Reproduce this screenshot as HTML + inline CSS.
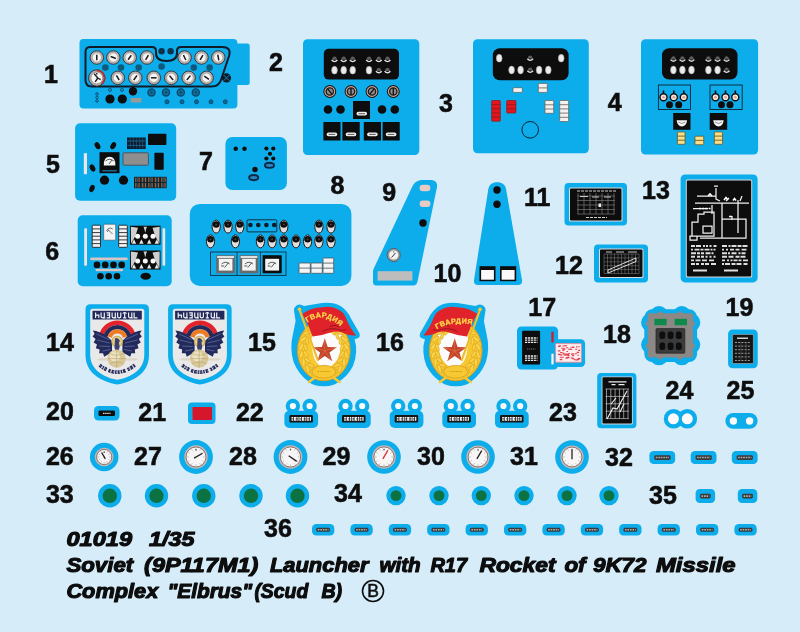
<!DOCTYPE html>
<html><head><meta charset="utf-8"><title>Decal sheet 01019</title>
<style>
html,body{margin:0;padding:0;background:#d6ecf9;}
body{width:800px;height:632px;overflow:hidden;font-family:"Liberation Sans",sans-serif;}
svg{display:block;position:absolute;left:0;top:0;}
.n{font-family:"Liberation Sans",sans-serif;font-weight:bold;font-size:25px;fill:#111;text-anchor:middle;stroke:#111;stroke-width:0.6px;}
.t{font-family:"Liberation Sans",sans-serif;font-weight:bold;font-style:italic;font-size:20.5px;fill:#0a0a0a;stroke:#0a0a0a;stroke-width:1.1px;stroke-linejoin:round;}
</style></head><body>
<svg width="800" height="632" viewBox="0 0 800 632">
<defs><filter id="soft" x="0" y="0" width="800" height="632" filterUnits="userSpaceOnUse"><feGaussianBlur stdDeviation="0.45"/></filter></defs>
<rect x="0" y="0" width="800" height="632" fill="#d6ecf9"/>
<g filter="url(#soft)">
<rect x="-5" y="-5" width="810" height="642" fill="#d6ecf9"/>
<!-- 00_labels.py -->
<text class="n" x="51.0" y="82.5">1</text>
<text class="n" x="276.0" y="71.0">2</text>
<text class="n" x="446.0" y="112.0">3</text>
<text class="n" x="614.8" y="111.0">4</text>
<text class="n" x="53.0" y="172.5">5</text>
<text class="n" x="52.2" y="259.5">6</text>
<text class="n" x="206.0" y="170.0">7</text>
<text class="n" x="337.5" y="194.0">8</text>
<text class="n" x="389.2" y="201.0">9</text>
<text class="n" x="447.5" y="282.0">10</text>
<text class="n" x="537.2" y="206.0">11</text>
<text class="n" x="569.0" y="274.0">12</text>
<text class="n" x="656.0" y="199.0">13</text>
<text class="n" x="60.0" y="351.0">14</text>
<text class="n" x="262.0" y="351.0">15</text>
<text class="n" x="390.0" y="351.0">16</text>
<text class="n" x="542.2" y="316.0">17</text>
<text class="n" x="617.0" y="342.5">18</text>
<text class="n" x="739.5" y="316.0">19</text>
<text class="n" x="60.0" y="420.0">20</text>
<text class="n" x="152.2" y="420.5">21</text>
<text class="n" x="249.8" y="420.5">22</text>
<text class="n" x="563.0" y="420.5">23</text>
<text class="n" x="679.5" y="399.0">24</text>
<text class="n" x="740.5" y="399.0">25</text>
<text class="n" x="59.8" y="464.5">26</text>
<text class="n" x="148.0" y="464.5">27</text>
<text class="n" x="243.0" y="464.5">28</text>
<text class="n" x="336.5" y="464.5">29</text>
<text class="n" x="431.0" y="464.5">30</text>
<text class="n" x="524.0" y="464.5">31</text>
<text class="n" x="619.0" y="465.5">32</text>
<text class="n" x="59.8" y="502.5">33</text>
<text class="n" x="348.0" y="502.0">34</text>
<text class="n" x="663.0" y="504.0">35</text>
<text class="n" x="278.0" y="536.5">36</text>
<text class="t" x="66.4" y="546.0" textLength="65.7" lengthAdjust="spacingAndGlyphs">01019</text>
<text class="t" x="149.1" y="546.0" textLength="45.5" lengthAdjust="spacingAndGlyphs">1/35</text>
<text class="t" x="66.4" y="572.0" textLength="66.9" lengthAdjust="spacingAndGlyphs">Soviet</text>
<text class="t" x="144.1" y="572.0" textLength="114.2" lengthAdjust="spacingAndGlyphs">(9P117M1)</text>
<text class="t" x="269.9" y="572.0" textLength="98.7" lengthAdjust="spacingAndGlyphs">Launcher</text>
<text class="t" x="379.4" y="572.0" textLength="41.2" lengthAdjust="spacingAndGlyphs">with</text>
<text class="t" x="430.4" y="572.0" textLength="36.7" lengthAdjust="spacingAndGlyphs">R17</text>
<text class="t" x="479.4" y="572.0" textLength="76.2" lengthAdjust="spacingAndGlyphs">Rocket</text>
<text class="t" x="564.4" y="572.0" textLength="21.2" lengthAdjust="spacingAndGlyphs">of</text>
<text class="t" x="592.9" y="572.0" textLength="53.7" lengthAdjust="spacingAndGlyphs">9K72</text>
<text class="t" x="655.9" y="572.0" textLength="79.7" lengthAdjust="spacingAndGlyphs">Missile</text>
<text class="t" x="66.4" y="597.5" textLength="91.9" lengthAdjust="spacingAndGlyphs">Complex</text>
<text class="t" x="167.4" y="597.5" textLength="84.7" lengthAdjust="spacingAndGlyphs">&quot;Elbrus&quot;</text>
<text class="t" x="254.4" y="597.5" textLength="53.9" lengthAdjust="spacingAndGlyphs">(Scud</text>
<text class="t" x="321.4" y="597.5" textLength="20.7" lengthAdjust="spacingAndGlyphs">B)</text>
<circle cx="373" cy="591" r="10.5" fill="none" stroke="#111" stroke-width="1.6"/>
<text x="373" y="597.3" font-family="Liberation Sans" font-size="17.5" text-anchor="middle" fill="#111" stroke="#111" stroke-width="0.5">B</text>
<!-- 10_panel1.py -->
<rect x="231.0" y="43.5" width="18.7" height="41.4" rx="2.5" fill="#0aadec" />
<rect x="79.5" y="39.1" width="157.9" height="69.4" rx="4" fill="#0aadec" />
<path d="M90,47 H152 Q156,47 156,51 V53 Q156,61 166.5,61 Q177,61 177,53 V51 Q177,47 181,47 H222 Q231.5,47 229.2,55.5 L221,80 Q219,86.5 211.5,86.5 H92 Q85.5,86.5 85.5,80 V52 Q85.5,47 90,47 Z" fill="none" stroke="#0c1a26" stroke-width="2"/>
<circle cx="105.4" cy="67.6" r="3.3" fill="#0b5a7d" />
<circle cx="121.0" cy="67.6" r="3.3" fill="#0b5a7d" />
<circle cx="138.7" cy="67.6" r="3.3" fill="#0b5a7d" />
<circle cx="193.8" cy="67.6" r="3.3" fill="#0b5a7d" />
<circle cx="209.6" cy="67.6" r="3.3" fill="#0b5a7d" />
<circle cx="161.6" cy="66.5" r="3.3" fill="#0b5a7d" />
<circle cx="161.6" cy="51.2" r="3.2" fill="#0a3048" />
<circle cx="170.6" cy="51.2" r="3.2" fill="#0a3048" />
<circle cx="96.8" cy="57.5" r="6.75" fill="#b9b0ac" stroke="#2c3036" stroke-width="0.9"/>
<circle cx="96.8" cy="57.5" r="4.45" fill="#f6f6f6" stroke="#8a8a8a" stroke-width="0.4"/>
<line x1="96.8" y1="60.3" x2="96.8" y2="54.7" stroke="#1a1a1a" stroke-width="1.5"/>
<circle cx="113.3" cy="57.5" r="6.75" fill="#b9b0ac" stroke="#2c3036" stroke-width="0.9"/>
<circle cx="113.3" cy="57.5" r="4.45" fill="#f6f6f6" stroke="#8a8a8a" stroke-width="0.4"/>
<line x1="115.9" y1="58.5" x2="110.7" y2="56.5" stroke="#1a1a1a" stroke-width="1.5"/>
<circle cx="129.7" cy="57.5" r="6.75" fill="#b9b0ac" stroke="#2c3036" stroke-width="0.9"/>
<circle cx="129.7" cy="57.5" r="4.45" fill="#f6f6f6" stroke="#8a8a8a" stroke-width="0.4"/>
<line x1="128.1" y1="59.8" x2="131.3" y2="55.2" stroke="#1a1a1a" stroke-width="1.5"/>
<circle cx="147.0" cy="57.5" r="6.75" fill="#b9b0ac" stroke="#2c3036" stroke-width="0.9"/>
<circle cx="147.0" cy="57.5" r="4.45" fill="#f6f6f6" stroke="#8a8a8a" stroke-width="0.4"/>
<line x1="145.6" y1="59.9" x2="148.4" y2="55.1" stroke="#1a1a1a" stroke-width="1.5"/>
<circle cx="184.6" cy="57.5" r="6.75" fill="#b9b0ac" stroke="#2c3036" stroke-width="0.9"/>
<circle cx="184.6" cy="57.5" r="4.45" fill="#f6f6f6" stroke="#8a8a8a" stroke-width="0.4"/>
<line x1="185.8" y1="60.0" x2="183.4" y2="55.0" stroke="#1a1a1a" stroke-width="1.5"/>
<circle cx="201.5" cy="57.5" r="6.75" fill="#b9b0ac" stroke="#2c3036" stroke-width="0.9"/>
<circle cx="201.5" cy="57.5" r="4.45" fill="#f6f6f6" stroke="#8a8a8a" stroke-width="0.4"/>
<line x1="200.1" y1="59.9" x2="202.9" y2="55.1" stroke="#1a1a1a" stroke-width="1.5"/>
<circle cx="218.3" cy="57.5" r="6.75" fill="#b9b0ac" stroke="#2c3036" stroke-width="0.9"/>
<circle cx="218.3" cy="57.5" r="4.45" fill="#f6f6f6" stroke="#8a8a8a" stroke-width="0.4"/>
<line x1="218.8" y1="60.3" x2="217.8" y2="54.7" stroke="#1a1a1a" stroke-width="1.5"/>
<circle cx="117.8" cy="77.8" r="6.75" fill="#b9b0ac" stroke="#2c3036" stroke-width="0.9"/>
<circle cx="117.8" cy="77.8" r="4.45" fill="#f6f6f6" stroke="#8a8a8a" stroke-width="0.4"/>
<line x1="119.2" y1="80.2" x2="116.4" y2="75.4" stroke="#1a1a1a" stroke-width="1.5"/>
<circle cx="135.3" cy="77.8" r="6.75" fill="#b9b0ac" stroke="#2c3036" stroke-width="0.9"/>
<circle cx="135.3" cy="77.8" r="4.45" fill="#f6f6f6" stroke="#8a8a8a" stroke-width="0.4"/>
<line x1="133.7" y1="80.1" x2="136.9" y2="75.5" stroke="#1a1a1a" stroke-width="1.5"/>
<circle cx="153.8" cy="77.8" r="6.75" fill="#b9b0ac" stroke="#2c3036" stroke-width="0.9"/>
<circle cx="153.8" cy="77.8" r="4.45" fill="#f6f6f6" stroke="#8a8a8a" stroke-width="0.4"/>
<line x1="151.0" y1="77.8" x2="156.6" y2="77.8" stroke="#1a1a1a" stroke-width="1.5"/>
<circle cx="171.3" cy="77.8" r="6.75" fill="#b9b0ac" stroke="#2c3036" stroke-width="0.9"/>
<circle cx="171.3" cy="77.8" r="4.45" fill="#f6f6f6" stroke="#8a8a8a" stroke-width="0.4"/>
<line x1="173.1" y1="80.0" x2="169.5" y2="75.6" stroke="#1a1a1a" stroke-width="1.5"/>
<circle cx="188.6" cy="77.8" r="6.75" fill="#b9b0ac" stroke="#2c3036" stroke-width="0.9"/>
<circle cx="188.6" cy="77.8" r="4.45" fill="#f6f6f6" stroke="#8a8a8a" stroke-width="0.4"/>
<line x1="186.8" y1="80.0" x2="190.4" y2="75.6" stroke="#1a1a1a" stroke-width="1.5"/>
<circle cx="206.6" cy="77.8" r="6.75" fill="#b9b0ac" stroke="#2c3036" stroke-width="0.9"/>
<circle cx="206.6" cy="77.8" r="4.45" fill="#f6f6f6" stroke="#8a8a8a" stroke-width="0.4"/>
<line x1="208.9" y1="79.4" x2="204.3" y2="76.2" stroke="#1a1a1a" stroke-width="1.5"/>
<circle cx="96.8" cy="78.0" r="8.2" fill="#b4b0b0" stroke="#2c2426" stroke-width="0.9"/>
<path d="M96.8,70.6 A7.4,7.4 0 0 1 101.5,83.8" fill="none" stroke="#b8322a" stroke-width="1.7"/>
<circle cx="96.8" cy="78.0" r="5.9" fill="#f6f6f6" stroke="#6a5a5a" stroke-width="0.5"/>
<path d="M94.2,73.8 L97.8,78 L95.2,81.8 M97.8,78 L100.6,79.6 M96.8,73 V74.5" stroke="#1a1a1a" stroke-width="1.4" fill="none"/>
<circle cx="226.5" cy="77.9" r="4.6" fill="#0c1a26" />
<path d="M223.6,75 L229.4,80.8 M229.4,75 L223.6,80.8" stroke="#1e8fc4" stroke-width="0.9"/>
<circle cx="151.5" cy="92.4" r="3.6" fill="#0e6e99" stroke="#0a4666" stroke-width="1.3"/>
<circle cx="151.5" cy="92.4" r="1.1" fill="#0a4666" />
<circle cx="166.0" cy="92.4" r="3.6" fill="#0e6e99" stroke="#0a4666" stroke-width="1.3"/>
<circle cx="166.0" cy="92.4" r="1.1" fill="#0a4666" />
<circle cx="180.8" cy="92.4" r="3.6" fill="#0e6e99" stroke="#0a4666" stroke-width="1.3"/>
<circle cx="180.8" cy="92.4" r="1.1" fill="#0a4666" />
<circle cx="195.8" cy="92.4" r="3.6" fill="#0e6e99" stroke="#0a4666" stroke-width="1.3"/>
<circle cx="195.8" cy="92.4" r="1.1" fill="#0a4666" />
<circle cx="110.0" cy="90.0" r="1.5" fill="none" stroke="#0a4666" stroke-width="0.9"/>
<circle cx="122.0" cy="90.0" r="1.5" fill="none" stroke="#0a4666" stroke-width="0.9"/>
<circle cx="133.0" cy="91.2" r="4.2" fill="#0a0a0a" />
<circle cx="110.0" cy="99.0" r="4.6" fill="#0a0a0a" />
<circle cx="122.3" cy="99.0" r="4.6" fill="#0a0a0a" />
<circle cx="97.0" cy="94.0" r="1.3" fill="none" stroke="#0a4666" stroke-width="0.9"/>
<circle cx="97.0" cy="97.5" r="1.3" fill="none" stroke="#0a4666" stroke-width="0.9"/>
<circle cx="97.0" cy="101.0" r="1.3" fill="none" stroke="#0a4666" stroke-width="0.9"/>
<rect x="130.8" y="98.0" width="10.6" height="4.5" rx="0" fill="#9a9a9a" />
<circle cx="167.0" cy="101.8" r="2.0" fill="#0d6a94" stroke="#0a4666" stroke-width="0.9"/>
<circle cx="182.0" cy="101.8" r="2.0" fill="#0d6a94" stroke="#0a4666" stroke-width="0.9"/>
<circle cx="196.5" cy="101.8" r="2.0" fill="#0d6a94" stroke="#0a4666" stroke-width="0.9"/>
<circle cx="211.0" cy="101.8" r="2.0" fill="#0d6a94" stroke="#0a4666" stroke-width="0.9"/>
<circle cx="225.3" cy="101.8" r="2.0" fill="#0d6a94" stroke="#0a4666" stroke-width="0.9"/>
<!-- 11_panel234.py -->
<rect x="303.0" y="39.2" width="116.3" height="115.8" rx="4.5" fill="#0aadec" />
<rect x="323.8" y="48.7" width="75.2" height="30.9" rx="5" fill="#0a0a0a" />
<path d="M332.2,59.8 A2.3,3.2 0 0 1 336.8,59.8 Z" fill="#5c5c5c"/>
<path d="M331.6,60.0 Q334.5,63.2 337.4,60.0" fill="none" stroke="#e4e4e4" stroke-width="1.4"/>
<path d="M341.4,59.8 A2.3,3.2 0 0 1 346.0,59.8 Z" fill="#5c5c5c"/>
<path d="M340.8,60.0 Q343.7,63.2 346.6,60.0" fill="none" stroke="#e4e4e4" stroke-width="1.4"/>
<path d="M350.4,59.8 A2.3,3.2 0 0 1 355.0,59.8 Z" fill="#5c5c5c"/>
<path d="M349.8,60.0 Q352.7,63.2 355.6,60.0" fill="none" stroke="#e4e4e4" stroke-width="1.4"/>
<path d="M366.7,59.8 A2.3,3.2 0 0 1 371.3,59.8 Z" fill="#5c5c5c"/>
<path d="M366.1,60.0 Q369.0,63.2 371.9,60.0" fill="none" stroke="#e4e4e4" stroke-width="1.4"/>
<path d="M376.5,59.8 A2.3,3.2 0 0 1 381.1,59.8 Z" fill="#5c5c5c"/>
<path d="M375.9,60.0 Q378.8,63.2 381.7,60.0" fill="none" stroke="#e4e4e4" stroke-width="1.4"/>
<path d="M385.2,59.8 A2.3,3.2 0 0 1 389.8,59.8 Z" fill="#5c5c5c"/>
<path d="M384.6,60.0 Q387.5,63.2 390.4,60.0" fill="none" stroke="#e4e4e4" stroke-width="1.4"/>
<ellipse cx="334.5" cy="70.2" rx="2.9" ry="3.9" fill="#ececec" stroke="#9a9a9a" stroke-width="0.6"/>
<ellipse cx="343.7" cy="70.2" rx="2.9" ry="3.9" fill="#ececec" stroke="#9a9a9a" stroke-width="0.6"/>
<ellipse cx="352.7" cy="70.2" rx="2.9" ry="3.9" fill="#ececec" stroke="#9a9a9a" stroke-width="0.6"/>
<ellipse cx="369.0" cy="70.2" rx="2.9" ry="3.9" fill="#ececec" stroke="#9a9a9a" stroke-width="0.6"/>
<path d="M376.5,71.0 A2.3,3.2 0 0 1 381.1,71.0 Z" fill="#5c5c5c"/>
<path d="M375.9,71.2 Q378.8,74.4 381.7,71.2" fill="none" stroke="#e4e4e4" stroke-width="1.4"/>
<path d="M385.2,71.0 A2.3,3.2 0 0 1 389.8,71.0 Z" fill="#5c5c5c"/>
<path d="M384.6,71.2 Q387.5,74.4 390.4,71.2" fill="none" stroke="#e4e4e4" stroke-width="1.4"/>
<circle cx="329.8" cy="91.5" r="6.4" fill="#101010" />
<circle cx="329.8" cy="91.5" r="4.9" fill="#1a1a1a" stroke="#d0a898" stroke-width="1.1"/>
<circle cx="329.8" cy="91.5" r="3.0" fill="#8c8c8c" />
<line x1="332.0" y1="94.1" x2="327.6" y2="88.9" stroke="#161616" stroke-width="1.4"/>
<circle cx="351.0" cy="91.5" r="6.4" fill="#101010" />
<circle cx="351.0" cy="91.5" r="4.9" fill="#1a1a1a" stroke="#d0a898" stroke-width="1.1"/>
<circle cx="351.0" cy="91.5" r="3.0" fill="#8c8c8c" />
<line x1="351.0" y1="94.9" x2="351.0" y2="88.1" stroke="#161616" stroke-width="1.4"/>
<circle cx="372.0" cy="91.5" r="6.4" fill="#101010" />
<circle cx="372.0" cy="91.5" r="4.9" fill="#1a1a1a" stroke="#d0a898" stroke-width="1.1"/>
<circle cx="372.0" cy="91.5" r="3.0" fill="#8c8c8c" />
<line x1="369.8" y1="94.1" x2="374.2" y2="88.9" stroke="#161616" stroke-width="1.4"/>
<circle cx="393.3" cy="91.5" r="6.4" fill="#101010" />
<circle cx="393.3" cy="91.5" r="4.9" fill="#1a1a1a" stroke="#d0a898" stroke-width="1.1"/>
<circle cx="393.3" cy="91.5" r="3.0" fill="#8c8c8c" />
<line x1="393.3" y1="94.9" x2="393.3" y2="88.1" stroke="#161616" stroke-width="1.4"/>
<circle cx="328.0" cy="109.5" r="4.3" fill="#0a0a0a" />
<circle cx="340.5" cy="109.5" r="4.3" fill="#0a0a0a" />
<circle cx="382.0" cy="109.5" r="4.3" fill="#0a0a0a" />
<circle cx="394.8" cy="109.5" r="4.3" fill="#0a0a0a" />
<rect x="353.0" y="101.0" width="17.0" height="18.0" rx="0" fill="#0a0a0a" />
<rect x="356.5" y="111.8" width="10.5" height="3.7" rx="1.8" fill="#efefef" />
<line x1="358.5" y1="113.7" x2="365" y2="113.7" stroke="#333" stroke-width="0.8"/>
<rect x="323.4" y="122.0" width="17.1" height="18.5" rx="0" fill="#0a0a0a" />
<rect x="326.6" y="132.5" width="10.6" height="3.7" rx="1.8" fill="#efefef" />
<line x1="328.6" y1="134.4" x2="335.2" y2="134.4" stroke="#333" stroke-width="0.8"/>
<rect x="342.4" y="122.0" width="17.3" height="18.5" rx="0" fill="#0a0a0a" />
<rect x="345.7" y="132.5" width="10.6" height="3.7" rx="1.8" fill="#efefef" />
<line x1="347.7" y1="134.4" x2="354.3" y2="134.4" stroke="#333" stroke-width="0.8"/>
<rect x="363.8" y="122.0" width="17.2" height="18.5" rx="0" fill="#0a0a0a" />
<rect x="367.1" y="132.5" width="10.6" height="3.7" rx="1.8" fill="#efefef" />
<line x1="369.1" y1="134.4" x2="375.7" y2="134.4" stroke="#333" stroke-width="0.8"/>
<rect x="382.6" y="122.0" width="17.1" height="18.5" rx="0" fill="#0a0a0a" />
<rect x="385.8" y="132.5" width="10.6" height="3.7" rx="1.8" fill="#efefef" />
<line x1="387.8" y1="134.4" x2="394.4" y2="134.4" stroke="#333" stroke-width="0.8"/>
<rect x="473.0" y="39.2" width="115.8" height="114.0" rx="4.5" fill="#0aadec" />
<rect x="492.8" y="48.2" width="75.8" height="32.0" rx="7" fill="#0a0a0a" />
<ellipse cx="499.2" cy="58.2" rx="2.9" ry="3.9" fill="#ececec" stroke="#9a9a9a" stroke-width="0.6"/>
<ellipse cx="561.2" cy="58.2" rx="2.9" ry="3.9" fill="#ececec" stroke="#9a9a9a" stroke-width="0.6"/>
<path d="M527.9,58.6 A2.3,3.2 0 0 1 532.5,58.6 Z" fill="#5c5c5c"/>
<path d="M527.3,58.8 Q530.2,62.0 533.1,58.8" fill="none" stroke="#e4e4e4" stroke-width="1.4"/>
<ellipse cx="511.6" cy="70.0" rx="2.9" ry="3.9" fill="#ececec" stroke="#9a9a9a" stroke-width="0.6"/>
<ellipse cx="520.6" cy="70.0" rx="2.9" ry="3.9" fill="#ececec" stroke="#9a9a9a" stroke-width="0.6"/>
<ellipse cx="539.1" cy="70.0" rx="2.9" ry="3.9" fill="#ececec" stroke="#9a9a9a" stroke-width="0.6"/>
<ellipse cx="548.3" cy="70.0" rx="2.9" ry="3.9" fill="#ececec" stroke="#9a9a9a" stroke-width="0.6"/>
<path d="M527.9,70.6 A2.3,3.2 0 0 1 532.5,70.6 Z" fill="#5c5c5c"/>
<path d="M527.3,70.8 Q530.2,74.0 533.1,70.8" fill="none" stroke="#e4e4e4" stroke-width="1.4"/>
<rect x="513.0" y="87.7" width="9.3" height="4.7" rx="1" fill="#f2f2f2" stroke="#5a4a3a" stroke-width="0.6"/>
<rect x="538.3" y="83.4" width="9.0" height="9.0" rx="0.8" fill="#f2f2f2" stroke="#6a5a4a" stroke-width="0.7"/>
<line x1="538.3" y1="87.9" x2="547.3" y2="87.9" stroke="#6a5a4a" stroke-width="0.8"/>
<rect x="491.7" y="100.5" width="8.6" height="20.7" rx="0.8" fill="#e3121c" stroke="#8a1a1a" stroke-width="0.7"/>
<line x1="491.7" y1="104.6" x2="500.3" y2="104.6" stroke="#8a1a1a" stroke-width="0.8"/>
<line x1="491.7" y1="108.8" x2="500.3" y2="108.8" stroke="#8a1a1a" stroke-width="0.8"/>
<line x1="491.7" y1="112.9" x2="500.3" y2="112.9" stroke="#8a1a1a" stroke-width="0.8"/>
<line x1="491.7" y1="117.1" x2="500.3" y2="117.1" stroke="#8a1a1a" stroke-width="0.8"/>
<rect x="506.7" y="100.5" width="9.2" height="12.5" rx="0.8" fill="#e3121c" stroke="#8a1a1a" stroke-width="0.7"/>
<line x1="506.7" y1="104.7" x2="515.9" y2="104.7" stroke="#8a1a1a" stroke-width="0.8"/>
<line x1="506.7" y1="108.8" x2="515.9" y2="108.8" stroke="#8a1a1a" stroke-width="0.8"/>
<rect x="545.0" y="100.5" width="8.7" height="12.8" rx="0.8" fill="#f2f2f2" stroke="#6a5a4a" stroke-width="0.7"/>
<line x1="545.0" y1="104.8" x2="553.7" y2="104.8" stroke="#6a5a4a" stroke-width="0.8"/>
<line x1="545.0" y1="109.0" x2="553.7" y2="109.0" stroke="#6a5a4a" stroke-width="0.8"/>
<rect x="559.7" y="100.5" width="8.9" height="21.0" rx="0.8" fill="#f2f2f2" stroke="#6a5a4a" stroke-width="0.7"/>
<line x1="559.7" y1="104.7" x2="568.6" y2="104.7" stroke="#6a5a4a" stroke-width="0.8"/>
<line x1="559.7" y1="108.9" x2="568.6" y2="108.9" stroke="#6a5a4a" stroke-width="0.8"/>
<line x1="559.7" y1="113.1" x2="568.6" y2="113.1" stroke="#6a5a4a" stroke-width="0.8"/>
<line x1="559.7" y1="117.3" x2="568.6" y2="117.3" stroke="#6a5a4a" stroke-width="0.8"/>
<circle cx="530.2" cy="129.8" r="8.3" fill="none" stroke="#10222e" stroke-width="1"/>
<rect x="641.0" y="39.2" width="117.1" height="115.4" rx="4.5" fill="#0aadec" />
<rect x="662.0" y="48.2" width="75.5" height="31.4" rx="7" fill="#0a0a0a" />
<path d="M671.1,59.4 A2.3,3.2 0 0 1 675.7,59.4 Z" fill="#5c5c5c"/>
<path d="M670.5,59.6 Q673.4,62.8 676.3,59.6" fill="none" stroke="#e4e4e4" stroke-width="1.4"/>
<path d="M680.1,59.4 A2.3,3.2 0 0 1 684.7,59.4 Z" fill="#5c5c5c"/>
<path d="M679.5,59.6 Q682.4,62.8 685.3,59.6" fill="none" stroke="#e4e4e4" stroke-width="1.4"/>
<path d="M689.2,59.4 A2.3,3.2 0 0 1 693.8,59.4 Z" fill="#5c5c5c"/>
<path d="M688.6,59.6 Q691.5,62.8 694.4,59.6" fill="none" stroke="#e4e4e4" stroke-width="1.4"/>
<path d="M706.1,59.4 A2.3,3.2 0 0 1 710.7,59.4 Z" fill="#5c5c5c"/>
<path d="M705.5,59.6 Q708.4,62.8 711.3,59.6" fill="none" stroke="#e4e4e4" stroke-width="1.4"/>
<path d="M715.3,59.4 A2.3,3.2 0 0 1 719.9,59.4 Z" fill="#5c5c5c"/>
<path d="M714.7,59.6 Q717.6,62.8 720.5,59.6" fill="none" stroke="#e4e4e4" stroke-width="1.4"/>
<path d="M724.3,59.4 A2.3,3.2 0 0 1 728.9,59.4 Z" fill="#5c5c5c"/>
<path d="M723.7,59.6 Q726.6,62.8 729.5,59.6" fill="none" stroke="#e4e4e4" stroke-width="1.4"/>
<ellipse cx="673.4" cy="70.0" rx="2.9" ry="3.9" fill="#ececec" stroke="#9a9a9a" stroke-width="0.6"/>
<ellipse cx="682.4" cy="70.0" rx="2.9" ry="3.9" fill="#ececec" stroke="#9a9a9a" stroke-width="0.6"/>
<ellipse cx="691.5" cy="70.0" rx="2.9" ry="3.9" fill="#ececec" stroke="#9a9a9a" stroke-width="0.6"/>
<ellipse cx="708.4" cy="70.0" rx="2.9" ry="3.9" fill="#ececec" stroke="#9a9a9a" stroke-width="0.6"/>
<ellipse cx="717.6" cy="70.0" rx="2.9" ry="3.9" fill="#ececec" stroke="#9a9a9a" stroke-width="0.6"/>
<path d="M724.3,70.6 A2.3,3.2 0 0 1 728.9,70.6 Z" fill="#5c5c5c"/>
<path d="M723.7,70.8 Q726.6,74.0 729.5,70.8" fill="none" stroke="#e4e4e4" stroke-width="1.4"/>
<rect x="658.4" y="85.0" width="32.1" height="24.5" rx="0" fill="none" stroke="#10222e" stroke-width="0.9"/>
<line x1="663.5" y1="90.5" x2="663.5" y2="94" stroke="#0a0a0a" stroke-width="1.6"/>
<circle cx="663.5" cy="97.3" r="3.5" fill="#f4e4de" stroke="#111" stroke-width="1.4"/>
<circle cx="663.5" cy="97.3" r="1.3" fill="#d8a090" />
<line x1="673.8" y1="90.5" x2="673.8" y2="94" stroke="#0a0a0a" stroke-width="1.6"/>
<circle cx="673.8" cy="97.3" r="3.5" fill="#f4e4de" stroke="#111" stroke-width="1.4"/>
<circle cx="673.8" cy="97.3" r="1.3" fill="#d8a090" />
<line x1="683.8" y1="90.5" x2="683.8" y2="94" stroke="#0a0a0a" stroke-width="1.6"/>
<circle cx="683.8" cy="97.3" r="3.5" fill="#f4e4de" stroke="#111" stroke-width="1.4"/>
<circle cx="683.8" cy="97.3" r="1.3" fill="#d8a090" />
<circle cx="669.5" cy="104.8" r="3.5" fill="#0a0a0a" />
<circle cx="678.7" cy="104.8" r="3.5" fill="#0a0a0a" />
<rect x="710.0" y="85.0" width="32.2" height="24.5" rx="0" fill="none" stroke="#10222e" stroke-width="0.9"/>
<line x1="715.5" y1="90.5" x2="715.5" y2="94" stroke="#0a0a0a" stroke-width="1.6"/>
<circle cx="715.5" cy="97.3" r="3.5" fill="#f4e4de" stroke="#111" stroke-width="1.4"/>
<circle cx="715.5" cy="97.3" r="1.3" fill="#d8a090" />
<line x1="725.5" y1="90.5" x2="725.5" y2="94" stroke="#0a0a0a" stroke-width="1.6"/>
<circle cx="725.5" cy="97.3" r="3.5" fill="#f4e4de" stroke="#111" stroke-width="1.4"/>
<circle cx="725.5" cy="97.3" r="1.3" fill="#d8a090" />
<line x1="735.3" y1="90.5" x2="735.3" y2="94" stroke="#0a0a0a" stroke-width="1.6"/>
<circle cx="735.3" cy="97.3" r="3.5" fill="#f4e4de" stroke="#111" stroke-width="1.4"/>
<circle cx="735.3" cy="97.3" r="1.3" fill="#d8a090" />
<circle cx="721.5" cy="104.8" r="3.5" fill="#0a0a0a" />
<circle cx="730.0" cy="104.8" r="3.5" fill="#0a0a0a" />
<rect x="673.2" y="113.0" width="17.3" height="16.8" rx="0" fill="#0a0a0a" />
<path d="M676.6,120.2 L687.1,120.2 Q686.4,126.2 681.9,126.4 Q677.4,126.2 676.6,120.2 Z" fill="#f4f4f4"/>
<path d="M678.4,122 Q681.9,125 685.4,122" fill="none" stroke="#666" stroke-width="0.7"/>
<rect x="709.7" y="113.0" width="17.5" height="16.8" rx="0" fill="#0a0a0a" />
<path d="M713.2,120.2 L723.7,120.2 Q723.0,126.2 718.5,126.4 Q714.0,126.2 713.2,120.2 Z" fill="#f4f4f4"/>
<path d="M715.0,122 Q718.5,125 722.0,122" fill="none" stroke="#666" stroke-width="0.7"/>
<rect x="677.4" y="132.0" width="7.6" height="12.3" rx="0.8" fill="#f7e08a" stroke="#6a4a10" stroke-width="0.7"/>
<line x1="677.4" y1="136.1" x2="685.0" y2="136.1" stroke="#6a4a10" stroke-width="0.8"/>
<line x1="677.4" y1="140.2" x2="685.0" y2="140.2" stroke="#6a4a10" stroke-width="0.8"/>
<rect x="695.0" y="136.2" width="8.7" height="8.5" rx="0.8" fill="#f7e08a" stroke="#6a4a10" stroke-width="0.7"/>
<line x1="695.0" y1="140.4" x2="703.7" y2="140.4" stroke="#6a4a10" stroke-width="0.8"/>
<rect x="714.4" y="132.0" width="8.1" height="12.3" rx="0.8" fill="#f7e08a" stroke="#6a4a10" stroke-width="0.7"/>
<line x1="714.4" y1="136.1" x2="722.5" y2="136.1" stroke="#6a4a10" stroke-width="0.8"/>
<line x1="714.4" y1="140.2" x2="722.5" y2="140.2" stroke="#6a4a10" stroke-width="0.8"/>
<!-- 12_panel5678.py -->
<rect x="75.1" y="123.2" width="101.1" height="77.5" rx="5" fill="#0aadec" />
<rect x="83.8" y="153.2" width="3.2" height="21.0" rx="0" fill="#ece4e6" />
<ellipse cx="97.5" cy="145.7" rx="2.5" ry="3.8" fill="#0a0a0a" transform="rotate(-30 97.5 145.7)"/>
<ellipse cx="113.2" cy="145.7" rx="2.5" ry="3.8" fill="#0a0a0a" transform="rotate(30 113.2 145.7)"/>
<ellipse cx="92.5" cy="168.0" rx="2.5" ry="3.8" fill="#0a0a0a" transform="rotate(-30 92.5 168)"/>
<ellipse cx="92.0" cy="188.5" rx="2.5" ry="3.8" fill="#0a0a0a" transform="rotate(20 92 188.5)"/>
<rect x="99.5" y="152.2" width="20.0" height="21.0" rx="0" fill="#0a0a0a" />
<path d="M103.8,165.5 Q103.5,157 109.6,156.8 Q115.6,157 115.4,165.5 Z" fill="#f4f4f4"/>
<path d="M105.5,161 Q109.5,157.5 113.8,161 M109,164 L112,160" fill="none" stroke="#333" stroke-width="0.8"/>
<line x1="102.2" y1="170.8" x2="116.8" y2="170.8" stroke="#1e7fb4" stroke-width="1.2"/>
<circle cx="104.5" cy="180.2" r="4.6" fill="#0a0a0a" />
<circle cx="123.5" cy="180.2" r="4.6" fill="#0a0a0a" />
<rect x="127.0" y="137.5" width="18.7" height="11.5" rx="0" fill="#0b1c2c" />
<line x1="130.2" y1="138.2" x2="130.2" y2="148.3" stroke="#1a5a84" stroke-width="0.7"/>
<line x1="133.4" y1="138.2" x2="133.4" y2="148.3" stroke="#1a5a84" stroke-width="0.7"/>
<line x1="136.4" y1="138.2" x2="136.4" y2="148.3" stroke="#1a5a84" stroke-width="0.7"/>
<line x1="139.6" y1="138.2" x2="139.6" y2="148.3" stroke="#1a5a84" stroke-width="0.7"/>
<line x1="142.6" y1="138.2" x2="142.6" y2="148.3" stroke="#1a5a84" stroke-width="0.7"/>
<line x1="127.5" y1="141" x2="145.2" y2="141" stroke="#1e6e9c" stroke-width="0.8"/>
<line x1="127.5" y1="145.4" x2="145.2" y2="145.4" stroke="#1e6e9c" stroke-width="0.8"/>
<rect x="148.0" y="133.7" width="18.4" height="11.3" rx="0.8" fill="#0a0a0a" />
<rect x="123.0" y="152.8" width="25.4" height="12.4" rx="0.8" fill="#8e8e8e" stroke="#4a5560" stroke-width="1"/>
<rect x="154.4" y="152.8" width="9.3" height="16.9" rx="0.6" fill="#0a0a0a" />
<rect x="134.0" y="176.8" width="32.7" height="11.4" rx="0" fill="#10202c" />
<line x1="135.8" y1="177.6" x2="135.8" y2="187.4" stroke="#b06a3a" stroke-width="1.1"/>
<line x1="139.1" y1="177.6" x2="139.1" y2="187.4" stroke="#b06a3a" stroke-width="1.1"/>
<line x1="142.3" y1="177.6" x2="142.3" y2="187.4" stroke="#b06a3a" stroke-width="1.1"/>
<line x1="145.6" y1="177.6" x2="145.6" y2="187.4" stroke="#b06a3a" stroke-width="1.1"/>
<line x1="148.8" y1="177.6" x2="148.8" y2="187.4" stroke="#b06a3a" stroke-width="1.1"/>
<line x1="152.1" y1="177.6" x2="152.1" y2="187.4" stroke="#b06a3a" stroke-width="1.1"/>
<line x1="155.3" y1="177.6" x2="155.3" y2="187.4" stroke="#b06a3a" stroke-width="1.1"/>
<line x1="158.6" y1="177.6" x2="158.6" y2="187.4" stroke="#b06a3a" stroke-width="1.1"/>
<line x1="161.8" y1="177.6" x2="161.8" y2="187.4" stroke="#b06a3a" stroke-width="1.1"/>
<line x1="165.1" y1="177.6" x2="165.1" y2="187.4" stroke="#b06a3a" stroke-width="1.1"/>
<line x1="137.4" y1="177.2" x2="137.4" y2="187.8" stroke="#1e6e9c" stroke-width="0.7"/>
<line x1="143.9" y1="177.2" x2="143.9" y2="187.8" stroke="#1e6e9c" stroke-width="0.7"/>
<line x1="150.4" y1="177.2" x2="150.4" y2="187.8" stroke="#1e6e9c" stroke-width="0.7"/>
<line x1="156.9" y1="177.2" x2="156.9" y2="187.8" stroke="#1e6e9c" stroke-width="0.7"/>
<line x1="163.4" y1="177.2" x2="163.4" y2="187.8" stroke="#1e6e9c" stroke-width="0.7"/>
<line x1="134.3" y1="182.5" x2="166.4" y2="182.5" stroke="#10202c" stroke-width="1.2"/>
<rect x="77.7" y="215.2" width="94.0" height="71.1" rx="5" fill="#0aadec" />
<rect x="84.2" y="228.2" width="2.8" height="37.5" rx="0.8" fill="#ece4e6" />
<rect x="162.5" y="228.2" width="2.7" height="37.5" rx="0.8" fill="#ece4e6" />
<rect x="92.2" y="225.2" width="8.3" height="22.1" rx="0.6" fill="#f4f4f4" stroke="#222" stroke-width="0.9"/>
<line x1="92.2" y1="228.9" x2="100.5" y2="228.9" stroke="#222" stroke-width="0.9"/>
<line x1="92.2" y1="232.6" x2="100.5" y2="232.6" stroke="#222" stroke-width="0.9"/>
<line x1="92.2" y1="236.2" x2="100.5" y2="236.2" stroke="#222" stroke-width="0.9"/>
<line x1="92.2" y1="239.9" x2="100.5" y2="239.9" stroke="#222" stroke-width="0.9"/>
<line x1="92.2" y1="243.6" x2="100.5" y2="243.6" stroke="#222" stroke-width="0.9"/>
<rect x="118.7" y="225.2" width="8.6" height="22.1" rx="0.6" fill="#f4f4f4" stroke="#222" stroke-width="0.9"/>
<line x1="118.7" y1="228.9" x2="127.3" y2="228.9" stroke="#222" stroke-width="0.9"/>
<line x1="118.7" y1="232.6" x2="127.3" y2="232.6" stroke="#222" stroke-width="0.9"/>
<line x1="118.7" y1="236.2" x2="127.3" y2="236.2" stroke="#222" stroke-width="0.9"/>
<line x1="118.7" y1="239.9" x2="127.3" y2="239.9" stroke="#222" stroke-width="0.9"/>
<line x1="118.7" y1="243.6" x2="127.3" y2="243.6" stroke="#222" stroke-width="0.9"/>
<rect x="103.7" y="224.2" width="12.0" height="16.0" rx="0.6" fill="#f4f4f4" stroke="#3a4a56" stroke-width="0.6"/>
<path d="M106.5,231 Q108.5,226.5 112.8,229 M108,229.5 L112.5,234 M107,232 L109,230" fill="none" stroke="#555" stroke-width="0.8"/>
<rect x="130.0" y="225.7" width="30.5" height="19.0" rx="0" fill="#0a0a0a" />
<path d="M130.8,226.7 L138.0,227.7 L135.5,235.7 L131.0,243.7 Z" fill="#cfcfcf"/>
<path d="M159.7,226.7 L152.5,227.7 L155.0,235.7 L159.5,243.7 Z" fill="#cfcfcf"/>
<path d="M143.5,226.7 L147.0,226.7 L145.2,232.7 Z" fill="#cfcfcf"/>
<circle cx="137.6" cy="236.3" r="2.5" fill="#f8f8f8" />
<circle cx="145.3" cy="236.3" r="2.5" fill="#f8f8f8" />
<circle cx="153.0" cy="236.3" r="2.5" fill="#f8f8f8" />
<path d="M131.8,243.7 L134.0,239.3 L136.2,243.7 Z" fill="#e8e8e8"/>
<path d="M139.2,243.7 L141.4,239.3 L143.6,243.7 Z" fill="#e8e8e8"/>
<path d="M147.0,243.7 L149.2,239.3 L151.4,243.7 Z" fill="#e8e8e8"/>
<path d="M154.6,243.7 L156.8,239.3 L159.0,243.7 Z" fill="#e8e8e8"/>
<circle cx="141.3" cy="229.9" r="3.0" fill="#0a0a0a" />
<circle cx="149.3" cy="229.9" r="3.0" fill="#0a0a0a" />
<rect x="130.0" y="250.5" width="30.5" height="19.0" rx="0" fill="#0a0a0a" />
<path d="M130.8,251.5 L138.0,252.5 L135.5,260.5 L131.0,268.5 Z" fill="#cfcfcf"/>
<path d="M159.7,251.5 L152.5,252.5 L155.0,260.5 L159.5,268.5 Z" fill="#cfcfcf"/>
<path d="M143.5,251.5 L147.0,251.5 L145.2,257.5 Z" fill="#cfcfcf"/>
<circle cx="137.6" cy="261.1" r="2.5" fill="#f8f8f8" />
<circle cx="145.3" cy="261.1" r="2.5" fill="#f8f8f8" />
<circle cx="153.0" cy="261.1" r="2.5" fill="#f8f8f8" />
<path d="M131.8,268.5 L134.0,264.1 L136.2,268.5 Z" fill="#e8e8e8"/>
<path d="M139.2,268.5 L141.4,264.1 L143.6,268.5 Z" fill="#e8e8e8"/>
<path d="M147.0,268.5 L149.2,264.1 L151.4,268.5 Z" fill="#e8e8e8"/>
<path d="M154.6,268.5 L156.8,264.1 L159.0,268.5 Z" fill="#e8e8e8"/>
<circle cx="141.3" cy="254.7" r="3.0" fill="#0a0a0a" />
<circle cx="149.3" cy="254.7" r="3.0" fill="#0a0a0a" />
<rect x="90.2" y="257.5" width="37.5" height="2.7" rx="1.2" fill="#d8c4c2" />
<circle cx="97.0" cy="264.9" r="3.3" fill="#0a0a0a" />
<circle cx="105.2" cy="264.9" r="3.3" fill="#0a0a0a" />
<circle cx="113.5" cy="264.9" r="3.3" fill="#0a0a0a" />
<circle cx="121.7" cy="264.9" r="3.3" fill="#0a0a0a" />
<rect x="95.5" y="268.7" width="27.7" height="2.6" rx="1.2" fill="#d8c4c2" />
<circle cx="100.4" cy="276.2" r="3.3" fill="#0a0a0a" />
<circle cx="108.7" cy="276.2" r="3.3" fill="#0a0a0a" />
<circle cx="117.0" cy="276.2" r="3.3" fill="#0a0a0a" />
<ellipse cx="145.7" cy="276.2" rx="5.2" ry="3.5" fill="#0a0a0a" />
<rect x="225.4" y="136.9" width="61.5" height="53.1" rx="7" fill="#0aadec" />
<circle cx="235.7" cy="148.7" r="2.2" fill="#0a0a0a" />
<circle cx="244.5" cy="148.7" r="2.2" fill="#0a0a0a" />
<circle cx="266.4" cy="148.5" r="2.1" fill="#0a0a0a" />
<circle cx="273.3" cy="148.5" r="2.1" fill="#0a0a0a" />
<circle cx="270.0" cy="153.8" r="2.1" fill="#0a0a0a" />
<circle cx="266.4" cy="158.5" r="2.1" fill="#0a0a0a" />
<circle cx="273.3" cy="158.5" r="2.1" fill="#0a0a0a" />
<ellipse cx="269.5" cy="165.3" rx="4.6" ry="2.6" fill="#2a86c0" stroke="#0a2c48" stroke-width="1.9"/>
<circle cx="255.0" cy="169.5" r="2.7" fill="#0a0a0a" />
<ellipse cx="253.7" cy="177.6" rx="4.6" ry="2.6" fill="#2a86c0" stroke="#0a2c48" stroke-width="1.9"/>
<rect x="189.8" y="203.9" width="161.6" height="82.1" rx="10" fill="#0aadec" />
<ellipse cx="216.2" cy="226.6" rx="4.1" ry="6.5" fill="#e6dedc" stroke="#1c1a1a" stroke-width="1.0"/>
<circle cx="216.2" cy="224.5" r="3.3" fill="#0c0c0c" />
<circle cx="216.2" cy="224.5" r="1.1" fill="#4a3a38" />
<ellipse cx="228.0" cy="226.6" rx="4.1" ry="6.5" fill="#e6dedc" stroke="#1c1a1a" stroke-width="1.0"/>
<circle cx="228.0" cy="224.5" r="3.3" fill="#0c0c0c" />
<circle cx="228.0" cy="224.5" r="1.1" fill="#4a3a38" />
<ellipse cx="239.8" cy="226.6" rx="4.1" ry="6.5" fill="#e6dedc" stroke="#1c1a1a" stroke-width="1.0"/>
<circle cx="239.8" cy="224.5" r="3.3" fill="#0c0c0c" />
<circle cx="239.8" cy="224.5" r="1.1" fill="#4a3a38" />
<ellipse cx="283.8" cy="226.6" rx="4.1" ry="6.5" fill="#e6dedc" stroke="#1c1a1a" stroke-width="1.0"/>
<circle cx="283.8" cy="224.5" r="3.3" fill="#0c0c0c" />
<circle cx="283.8" cy="224.5" r="1.1" fill="#4a3a38" />
<ellipse cx="318.9" cy="226.6" rx="4.1" ry="6.5" fill="#e6dedc" stroke="#1c1a1a" stroke-width="1.0"/>
<circle cx="318.9" cy="224.5" r="3.3" fill="#0c0c0c" />
<circle cx="318.9" cy="224.5" r="1.1" fill="#4a3a38" />
<ellipse cx="331.0" cy="226.6" rx="4.1" ry="6.5" fill="#e6dedc" stroke="#1c1a1a" stroke-width="1.0"/>
<circle cx="331.0" cy="224.5" r="3.3" fill="#0c0c0c" />
<circle cx="331.0" cy="224.5" r="1.1" fill="#4a3a38" />
<ellipse cx="210.5" cy="241.4" rx="4.1" ry="6.5" fill="#e6dedc" stroke="#1c1a1a" stroke-width="1.0"/>
<circle cx="210.5" cy="239.3" r="3.3" fill="#0c0c0c" />
<circle cx="210.5" cy="239.3" r="1.1" fill="#4a3a38" />
<ellipse cx="235.4" cy="241.4" rx="4.1" ry="6.5" fill="#e6dedc" stroke="#1c1a1a" stroke-width="1.0"/>
<circle cx="235.4" cy="239.3" r="3.3" fill="#0c0c0c" />
<circle cx="235.4" cy="239.3" r="1.1" fill="#4a3a38" />
<ellipse cx="260.4" cy="241.4" rx="4.1" ry="6.5" fill="#e6dedc" stroke="#1c1a1a" stroke-width="1.0"/>
<circle cx="260.4" cy="239.3" r="3.3" fill="#0c0c0c" />
<circle cx="260.4" cy="239.3" r="1.1" fill="#4a3a38" />
<ellipse cx="272.1" cy="241.4" rx="4.1" ry="6.5" fill="#e6dedc" stroke="#1c1a1a" stroke-width="1.0"/>
<circle cx="272.1" cy="239.3" r="3.3" fill="#0c0c0c" />
<circle cx="272.1" cy="239.3" r="1.1" fill="#4a3a38" />
<ellipse cx="283.8" cy="241.4" rx="4.1" ry="6.5" fill="#e6dedc" stroke="#1c1a1a" stroke-width="1.0"/>
<circle cx="283.8" cy="239.3" r="3.3" fill="#0c0c0c" />
<circle cx="283.8" cy="239.3" r="1.1" fill="#4a3a38" />
<ellipse cx="296.0" cy="241.4" rx="4.1" ry="6.5" fill="#e6dedc" stroke="#1c1a1a" stroke-width="1.0"/>
<circle cx="296.0" cy="239.3" r="3.3" fill="#0c0c0c" />
<circle cx="296.0" cy="239.3" r="1.1" fill="#4a3a38" />
<ellipse cx="307.6" cy="241.4" rx="4.1" ry="6.5" fill="#e6dedc" stroke="#1c1a1a" stroke-width="1.0"/>
<circle cx="307.6" cy="239.3" r="3.3" fill="#0c0c0c" />
<circle cx="307.6" cy="239.3" r="1.1" fill="#4a3a38" />
<ellipse cx="318.9" cy="241.4" rx="4.1" ry="6.5" fill="#e6dedc" stroke="#1c1a1a" stroke-width="1.0"/>
<circle cx="318.9" cy="239.3" r="3.3" fill="#0c0c0c" />
<circle cx="318.9" cy="239.3" r="1.1" fill="#4a3a38" />
<ellipse cx="331.0" cy="241.4" rx="4.1" ry="6.5" fill="#e6dedc" stroke="#1c1a1a" stroke-width="1.0"/>
<circle cx="331.0" cy="239.3" r="3.3" fill="#0c0c0c" />
<circle cx="331.0" cy="239.3" r="1.1" fill="#4a3a38" />
<rect x="247.0" y="219.8" width="29.8" height="12.1" rx="1" fill="none" stroke="#10222e" stroke-width="0.9"/>
<circle cx="250.4" cy="225.0" r="2.3" fill="#0a1a26" />
<circle cx="258.3" cy="225.0" r="2.3" fill="#0a1a26" />
<circle cx="266.4" cy="225.0" r="2.3" fill="#0a1a26" />
<circle cx="274.2" cy="225.0" r="2.3" fill="#0a1a26" />
<rect x="210.5" y="252.0" width="75.5" height="23.4" rx="0" fill="none" stroke="#10303e" stroke-width="0.9"/>
<line x1="237" y1="252" x2="237" y2="275.4" stroke="#10303e" stroke-width="0.9"/>
<line x1="260.4" y1="252" x2="260.4" y2="275.4" stroke="#10303e" stroke-width="0.9"/>
<rect x="216.2" y="255.2" width="18.8" height="18.1" rx="0" fill="#6a6a6a" />
<rect x="218.8" y="258.8" width="13.6" height="11.8" rx="0" fill="#f4f4f4" />
<rect x="217.2" y="256.0" width="16.8" height="2.0" rx="0" fill="#e0e0e0" />
<path d="M221.6,264 Q225.6,260.5 229.6,264 M224.6,267.5 L228.6,262.5 M221.1,266 H224.1" fill="none" stroke="#333" stroke-width="0.8"/>
<rect x="239.6" y="255.2" width="18.7" height="18.1" rx="0" fill="#6a6a6a" />
<rect x="242.2" y="258.8" width="13.5" height="11.8" rx="0" fill="#f4f4f4" />
<rect x="240.6" y="256.0" width="16.7" height="2.0" rx="0" fill="#e0e0e0" />
<path d="M244.9,264 Q248.9,260.5 252.9,264 M247.9,267.5 L251.9,262.5 M244.4,266 H247.4" fill="none" stroke="#333" stroke-width="0.8"/>
<rect x="262.6" y="255.2" width="19.1" height="18.1" rx="0" fill="#0a0a0a" />
<rect x="265.2" y="258.8" width="13.9" height="11.8" rx="0" fill="#f4f4f4" />
<path d="M268.1,264 Q272.1,260.5 276.1,264 M271.1,267.5 L275.1,262.5 M267.6,266 H270.6" fill="none" stroke="#333" stroke-width="0.8"/>
<rect x="299.0" y="263.0" width="11.3" height="10.3" rx="0.6" fill="#f4f4f4" stroke="#4a5560" stroke-width="0.8"/>
<line x1="299.0" y1="268.1" x2="310.3" y2="268.1" stroke="#4a5560" stroke-width="0.8"/>
<rect x="311.0" y="263.0" width="11.3" height="10.3" rx="0.6" fill="#f4f4f4" stroke="#4a5560" stroke-width="0.8"/>
<line x1="311.0" y1="268.1" x2="322.3" y2="268.1" stroke="#4a5560" stroke-width="0.8"/>
<rect x="323.0" y="258.0" width="10.7" height="15.3" rx="0.6" fill="#f4f4f4" stroke="#4a5560" stroke-width="0.8"/>
<line x1="323.0" y1="263.1" x2="333.7" y2="263.1" stroke="#4a5560" stroke-width="0.8"/>
<line x1="323.0" y1="268.2" x2="333.7" y2="268.2" stroke="#4a5560" stroke-width="0.8"/>
<!-- 13_items9_13.py -->
<path d="M422.5,180 H430.5 C435.6,180 437.8,183 436.9,187.6 L417.5,281.6 Q416.8,285.6 413,285.6 H376.5 Q373,285.6 373,282 V271.5 Q373,269.5 374,268 L412.3,186.6 C414.4,182.2 417.8,180 422.5,180 Z" fill="#0aadec"/>
<rect x="419.6" y="184.8" width="10.8" height="6.4" rx="3.2" fill="#e8cbc4" />
<rect x="419.6" y="200.6" width="10.8" height="6.4" rx="3.2" fill="#e8cbc4" />
<circle cx="423.0" cy="223.0" r="3.7" fill="#0a0a0a" />
<circle cx="393.7" cy="255.0" r="6.6" fill="#9a9a9a" stroke="#4a4a4a" stroke-width="0.7"/>
<circle cx="393.7" cy="255.0" r="4.6" fill="#f4f4f4" />
<path d="M391.5,257.5 L395.5,253 M393.7,251.5 V252.5" stroke="#333" stroke-width="1" fill="none"/>
<rect x="377.6" y="271.2" width="34.8" height="9.4" rx="0" fill="#bdbdbd" />
<path d="M497.2,182.2 C502,182.2 505.3,184.8 506.1,189.2 L522,280 Q522.6,285 518,285 H478 Q473.4,285 474,280 L488.3,189.2 C489.1,184.8 492.4,182.2 497.2,182.2 Z" fill="#0aadec"/>
<circle cx="497.0" cy="190.0" r="3.7" fill="#0a0a0a" />
<circle cx="497.0" cy="204.2" r="3.7" fill="#0a0a0a" />
<rect x="479.5" y="266.2" width="16.0" height="15.0" rx="0" fill="#0a0a0a" />
<rect x="481.1" y="270.0" width="12.8" height="9.7" rx="0" fill="#fafafa" />
<rect x="500.0" y="266.2" width="16.2" height="15.0" rx="0" fill="#0a0a0a" />
<rect x="501.6" y="270.0" width="13.0" height="9.7" rx="0" fill="#fafafa" />
<rect x="564.5" y="183.0" width="62.5" height="42.5" rx="4" fill="#0aadec" />
<rect x="569.0" y="187.5" width="53.5" height="34.0" rx="1.5" fill="#dcdcdc" />
<rect x="570.0" y="188.5" width="51.5" height="32.0" rx="1" fill="#0a0a0a" />
<path d="M578,193 V214 M584,193 V214 M590,193 V214 M596,193 V214 M602,193 V214 M608,193 V214 M614,193 V214 M577,196 H615 M577,200.5 H615 M577,205 H615 M577,209.5 H615 M577,214 H615 " stroke="#8a8a8a" stroke-width="0.6" fill="none"/>
<path d="M577,191 H616 M586,217.5 H607" stroke="#d0d0d0" stroke-width="1.1" fill="none" stroke-dasharray="3 1"/>
<rect x="598.5" y="203.5" width="2.5" height="3.5" rx="0" fill="#f0f0f0" />
<path d="M580,196.5 H588 M592,197 H599 M604,197 H611" stroke="#ddd" stroke-width="0.9" fill="none"/>
<rect x="594.0" y="244.5" width="54.0" height="38.0" rx="4" fill="#0aadec" />
<rect x="599.0" y="248.6" width="44.5" height="29.4" rx="1.5" fill="#dcdcdc" />
<rect x="600.0" y="249.6" width="42.5" height="27.4" rx="1" fill="#0a0a0a" />
<path d="M604.0,254 V273.5 M607.5,254 V273.5 M611.0,254 V273.5 M614.5,254 V273.5 M618.0,254 V273.5 M621.5,254 V273.5 M625.0,254 V273.5 M628.5,254 V273.5 M632.0,254 V273.5 M635.5,254 V273.5 M639.0,254 V273.5 M604,254.0 H639 M604,257.9 H639 M604,261.8 H639 M604,265.7 H639 M604,269.6 H639 M604,273.5 H639 " stroke="#8a8a8a" stroke-width="0.5" fill="none"/>
<path d="M608,270 L636,258 L636,261.5 L608,273 Z" fill="none" stroke="#eee" stroke-width="0.9"/>
<path d="M606,252 H612 M616,252 H624 M628,252 H637" stroke="#ddd" stroke-width="0.9" fill="none"/>
<rect x="680.6" y="174.4" width="77.0" height="108.0" rx="4.5" fill="#0aadec" />
<rect x="685.8" y="179.4" width="66.4" height="98.2" rx="1.5" fill="#dcdcdc" />
<rect x="686.8" y="180.4" width="64.4" height="96.2" rx="1" fill="#0a0a0a" />
<path d="M697,196 H716 M695,203 H749 M693,208.5 H708 M712,205 V214 M722,203 V238 M722,219 H746 V238 H700 M738,200 V233 M716,188 V199 L720,201 M714,186 H718 M726,201 L729,198 M740,201 L742,196 M704,212 H714 V236 H692 V222 H698 V214 H704 Z M703,226 H712 V233 H703 Z M690,236 H697 V240 H690 Z M732,216 V220" fill="none" stroke="#f2f2f2" stroke-width="1.25"/>
<path d="M699,208.5 h2 m1.2,0 h2 m1.2,0 h2 m1.2,0 h2 M708,196 l2,-2 2,2 M724,200 l2,-2.5 2,2.5 M733,200.5 l1.5,-2 1.5,2 M729,216.5 h3" fill="none" stroke="#fff" stroke-width="1.6"/>
<path d="M691.0,246.0 h4 M696.0,246.0 h5 M703.0,246.0 h2 M706.0,246.0 h2 M709.5,246.0 h2 M713.5,246.0 h3 M691.0,249.6 h2 M694.5,249.6 h5 M700.5,249.6 h3 M704.5,249.6 h5 M710.5,249.6 h2 M713.5,249.6 h2 M691.0,253.2 h5 M697.0,253.2 h3 M701.0,253.2 h3 M705.5,253.2 h5 M711.5,253.2 h2 M691.0,256.8 h4 M697.0,256.8 h3 M701.0,256.8 h3 M705.5,256.8 h2 M709.5,256.8 h2 M713.5,256.8 h2 M691.0,260.4 h3 M695.5,260.4 h5 M702.0,260.4 h5 M709.0,260.4 h5 M691.0,264.0 h4 M696.0,264.0 h3 M701.0,264.0 h3 M705.0,264.0 h4 M711.0,264.0 h5 M693,270.5 h14 M722.0,246.0 h5 M728.5,246.0 h2 M731.5,246.0 h5 M737.5,246.0 h4 M742.5,246.0 h5 M722.0,249.6 h2 M726.0,249.6 h2 M730.0,249.6 h4 M735.5,249.6 h4 M741.5,249.6 h5 M722.0,253.2 h5 M728.0,253.2 h2 M731.5,253.2 h5 M738.5,253.2 h2 M741.5,253.2 h4 M722.0,256.8 h5 M728.5,256.8 h5 M735.5,256.8 h4 M740.5,256.8 h5 M722.0,260.4 h3 M727.0,260.4 h2 M730.5,260.4 h2 M733.5,260.4 h4 M738.5,260.4 h3 M743.0,260.4 h5 M722.0,264.0 h2 M725.0,264.0 h5 M731.5,264.0 h4 M736.5,264.0 h5 M743.5,264.0 h4 M724,270.5 h14 " stroke="#dedede" stroke-width="1.9" fill="none"/>
<!-- 14_small.py -->
<rect x="517.0" y="326.5" width="41.1" height="43.0" rx="4.5" fill="#0aadec" />
<rect x="540.0" y="339.3" width="45.1" height="27.7" rx="4.5" fill="#0aadec" />
<rect x="522.1" y="330.7" width="18.0" height="33.7" rx="1" fill="#0a0a0a" />
<path d="M525,338 h12.5 M525,340.2 h12.5 M525,342.4 h12.5 M525,356 h12.5 M525,358.2 h12.5 M525,360.4 h12.5 " stroke="#e8e8e8" stroke-width="1.3" stroke-dasharray="2.2 0.7" fill="none"/>
<path d="M527,349 h8.5" stroke="#777" stroke-width="1.2" stroke-dasharray="1.2 0.8" fill="none"/>
<rect x="551.4" y="331.8" width="2.2" height="10.7" rx="0" fill="#e3121c" />
<rect x="551.4" y="353.7" width="2.2" height="10.7" rx="0" fill="#fafafa" />
<rect x="555.6" y="343.6" width="25.8" height="18.6" rx="0.5" fill="#fdeef0" stroke="#e88a9a" stroke-width="0.9"/>
<path d="M562.5,353.4 h2 M576.7,352.4 h2.5 M558.9,345.7 h2 M562.9,348.9 h2.5 M567.4,357.6 h2 M565.8,358.0 h1.5 M570.8,358.1 h2.5 M565.7,345.7 h1.5 M560.8,359.4 h1.5 M563.8,345.9 h2 M567.4,355.9 h2 M572.5,358.9 h2 M572.8,353.9 h1.5 M576.0,346.9 h1.5 M567.9,349.2 h2.5 M566.7,354.6 h2 M566.3,357.6 h2.5 M564.9,354.0 h2.5 M562.4,350.4 h1.5 M575.5,359.9 h2.5 M572.1,355.6 h2 M577.8,358.6 h2.5 M559.7,355.0 h2.5 M575.0,353.8 h2 M560.1,352.5 h2.5 M578.3,346.8 h1.5 M566.1,347.7 h2 M566.5,351.5 h1.5 M558.4,354.4 h1.5 M565.4,354.0 h2.5 M576.0,359.7 h2.5 M562.5,346.0 h1.5 M559.1,354.2 h1.5 M577.4,359.6 h2 M570.3,347.8 h1.5 M578.1,350.4 h2 M577.6,358.5 h2 M565.4,358.1 h2 M571.0,354.1 h2.5 M559.7,359.6 h2.5 M563.2,354.7 h2.5 M562.5,349.9 h2 M568.4,353.5 h1.5 M574.1,359.8 h2 M557.9,354.4 h2.5 M560.3,354.7 h2 M567.3,355.3 h2 M570.3,349.5 h2 M558.0,346.4 h2.5 M557.9,350.9 h2.5 M567.1,354.1 h2 M561.2,348.2 h2 M575.2,349.3 h2 M559.7,357.3 h2.5 M571.9,347.4 h2.5 M562.2,357.2 h1.5 M564.4,355.3 h2.5 M572.2,347.0 h2 M577.4,355.3 h1.5 M566.7,357.9 h1.5 " stroke="#e4404e" stroke-width="1.1" fill="none"/>
<circle cx="659.0" cy="315.2" r="9.1" fill="#0aadec" />
<circle cx="681.8" cy="315.2" r="9.1" fill="#0aadec" />
<circle cx="659.0" cy="356.2" r="9.1" fill="#0aadec" />
<circle cx="681.8" cy="356.2" r="9.1" fill="#0aadec" />
<circle cx="650.2" cy="322.6" r="9.1" fill="#0aadec" />
<circle cx="650.2" cy="344.6" r="9.1" fill="#0aadec" />
<circle cx="691.2" cy="322.6" r="9.1" fill="#0aadec" />
<circle cx="691.2" cy="344.6" r="9.1" fill="#0aadec" />
<rect x="644.3" y="309.3" width="52.8" height="52.8" rx="8" fill="#0aadec" />
<rect x="647.7" y="313.3" width="45.4" height="44.3" rx="1.5" fill="#8c8886" />
<path d="M656.8000000000001,314 L660.2,310.8 L663.6,314 Z M656.8000000000001,357 L660.2,360.2 L663.6,357 Z" fill="#8c8886"/>
<path d="M676.8000000000001,314 L680.2,310.8 L683.6,314 Z M676.8000000000001,357 L680.2,360.2 L683.6,357 Z" fill="#8c8886"/>
<path d="M648.4,320.1 L645.2,323.5 L648.4,326.9 Z M692.4,320.1 L695.6,323.5 L692.4,326.9 Z" fill="#8c8886"/>
<path d="M648.4,342.6 L645.2,346 L648.4,349.4 Z M692.4,342.6 L695.6,346 L692.4,349.4 Z" fill="#8c8886"/>
<rect x="656.0" y="328.6" width="28.8" height="24.6" rx="0.8" fill="#3a3a3a" stroke="#2c2c2c" stroke-width="0.8"/>
<rect x="659.4" y="331.5" width="5.8" height="7.6" rx="2.4" fill="#0a0a0a" />
<rect x="659.4" y="342.5" width="5.8" height="7.6" rx="2.4" fill="#0a0a0a" />
<rect x="667.7" y="331.5" width="5.8" height="7.6" rx="2.4" fill="#0a0a0a" />
<rect x="667.7" y="342.5" width="5.8" height="7.6" rx="2.4" fill="#0a0a0a" />
<rect x="675.9" y="331.5" width="5.8" height="7.6" rx="2.4" fill="#0a0a0a" />
<rect x="675.9" y="342.5" width="5.8" height="7.6" rx="2.4" fill="#0a0a0a" />
<rect x="654.4" y="318.8" width="12.2" height="6.4" rx="0" fill="#0c8a4c" />
<rect x="674.6" y="318.8" width="12.4" height="6.4" rx="0" fill="#0c8a4c" />
<rect x="728.1" y="329.4" width="29.6" height="38.8" rx="4.5" fill="#0aadec" />
<rect x="732.3" y="334.2" width="21.3" height="29.6" rx="1" fill="#8a8684" />
<rect x="733.0" y="334.9" width="19.9" height="28.2" rx="0.6" fill="#161616" />
<path d="M735,342.5 h15.5 M735,346.1 h15.5 M735,349.7 h15.5 M735,353.3 h15.5 M735,356.9 h15.5 M735,360.5 h15.5 " stroke="#9a9a9a" stroke-width="1" stroke-dasharray="2 1.2" fill="none"/>
<path d="M737,338.2 h11" stroke="#f0f0f0" stroke-width="1.3" fill="none"/>
<path d="M741,342 V361 M746,342 V361" stroke="#666" stroke-width="0.5" fill="none"/>
<rect x="94.0" y="406.0" width="25.5" height="14.5" rx="4.5" fill="#0aadec" />
<rect x="98.5" y="410.6" width="16.5" height="5.4" rx="1.2" fill="#111" />
<path d="M103,413.3 h7.5" stroke="#d8d8d8" stroke-width="1.3" stroke-dasharray="1.5 0.6" fill="none"/>
<rect x="188.0" y="402.5" width="27.5" height="21.5" rx="4" fill="#0aadec" />
<rect x="192.5" y="407.0" width="19.5" height="13.0" rx="0.8" fill="#d6182a" />
<rect x="284.4" y="410.7" width="33.7" height="17.3" rx="5" fill="#0aadec" />
<circle cx="292.9" cy="406.0" r="7.2" fill="#0aadec" />
<circle cx="309.6" cy="406.0" r="7.2" fill="#0aadec" />
<circle cx="292.9" cy="406.0" r="3.1" fill="#fafafa" />
<circle cx="309.6" cy="406.0" r="3.1" fill="#fafafa" />
<rect x="289.4" y="415.1" width="23.5" height="7.5" rx="1.3" fill="#141414" />
<path d="M291.5,418.9 h19.5" stroke="#f4f4f4" stroke-width="3.8" stroke-dasharray="1.8 0.7 2.6 0.7 1.3 0.7" fill="none"/>
<path d="M291.5,418.9 h19.5" stroke="#141414" stroke-width="0.8" stroke-dasharray="2.4 1.6" fill="none"/>
<rect x="337.0" y="410.7" width="33.7" height="17.3" rx="5" fill="#0aadec" />
<circle cx="345.5" cy="406.0" r="7.2" fill="#0aadec" />
<circle cx="362.2" cy="406.0" r="7.2" fill="#0aadec" />
<circle cx="345.5" cy="406.0" r="3.1" fill="#fafafa" />
<circle cx="362.2" cy="406.0" r="3.1" fill="#fafafa" />
<rect x="342.0" y="415.1" width="23.5" height="7.5" rx="1.3" fill="#141414" />
<path d="M344.1,418.9 h19.5" stroke="#f4f4f4" stroke-width="3.8" stroke-dasharray="1.8 0.7 2.6 0.7 1.3 0.7" fill="none"/>
<path d="M344.1,418.9 h19.5" stroke="#141414" stroke-width="0.8" stroke-dasharray="2.4 1.6" fill="none"/>
<rect x="389.7" y="410.7" width="33.7" height="17.3" rx="5" fill="#0aadec" />
<circle cx="398.2" cy="406.0" r="7.2" fill="#0aadec" />
<circle cx="414.9" cy="406.0" r="7.2" fill="#0aadec" />
<circle cx="398.2" cy="406.0" r="3.1" fill="#fafafa" />
<circle cx="414.9" cy="406.0" r="3.1" fill="#fafafa" />
<rect x="394.7" y="415.1" width="23.5" height="7.5" rx="1.3" fill="#141414" />
<path d="M396.8,418.9 h19.5" stroke="#f4f4f4" stroke-width="3.8" stroke-dasharray="1.8 0.7 2.6 0.7 1.3 0.7" fill="none"/>
<path d="M396.8,418.9 h19.5" stroke="#141414" stroke-width="0.8" stroke-dasharray="2.4 1.6" fill="none"/>
<rect x="442.3" y="410.7" width="33.7" height="17.3" rx="5" fill="#0aadec" />
<circle cx="450.8" cy="406.0" r="7.2" fill="#0aadec" />
<circle cx="467.6" cy="406.0" r="7.2" fill="#0aadec" />
<circle cx="450.8" cy="406.0" r="3.1" fill="#fafafa" />
<circle cx="467.6" cy="406.0" r="3.1" fill="#fafafa" />
<rect x="447.3" y="415.1" width="23.5" height="7.5" rx="1.3" fill="#141414" />
<path d="M449.4,418.9 h19.5" stroke="#f4f4f4" stroke-width="3.8" stroke-dasharray="1.8 0.7 2.6 0.7 1.3 0.7" fill="none"/>
<path d="M449.4,418.9 h19.5" stroke="#141414" stroke-width="0.8" stroke-dasharray="2.4 1.6" fill="none"/>
<rect x="495.0" y="410.7" width="33.7" height="17.3" rx="5" fill="#0aadec" />
<circle cx="503.5" cy="406.0" r="7.2" fill="#0aadec" />
<circle cx="520.2" cy="406.0" r="7.2" fill="#0aadec" />
<circle cx="503.5" cy="406.0" r="3.1" fill="#fafafa" />
<circle cx="520.2" cy="406.0" r="3.1" fill="#fafafa" />
<rect x="500.0" y="415.1" width="23.5" height="7.5" rx="1.3" fill="#141414" />
<path d="M502.1,418.9 h19.5" stroke="#f4f4f4" stroke-width="3.8" stroke-dasharray="1.8 0.7 2.6 0.7 1.3 0.7" fill="none"/>
<path d="M502.1,418.9 h19.5" stroke="#141414" stroke-width="0.8" stroke-dasharray="2.4 1.6" fill="none"/>
<rect x="597.2" y="373.0" width="39.2" height="55.3" rx="4" fill="#0aadec" />
<rect x="601.6" y="376.4" width="31.2" height="48.0" rx="1.2" fill="#cfd6da" />
<rect x="602.5" y="377.3" width="29.4" height="46.3" rx="0.8" fill="#0a0a0a" />
<path d="M606.5,389 V418.5 M610.8,389 V418.5 M615.1,389 V418.5 M619.4,389 V418.5 M623.7,389 V418.5 M628.0,389 V418.5 M605.5,389.0 H629 M605.5,396.4 H629 M605.5,403.8 H629 M605.5,411.2 H629 M605.5,418.6 H629 " stroke="#c8c8c8" stroke-width="0.7" fill="none"/>
<path d="M608.5,381.8 H626.5 M611.5,384.6 h4 M618.5,384.6 h6" stroke="#f0f0f0" stroke-width="1.2" fill="none"/>
<path d="M607,419 L613,408 L617,409 L627,391 M611,404 L616,398 M620,412 L624,404" stroke="#f4f4f4" stroke-width="1.1" fill="none"/>
<circle cx="673.6" cy="418.8" r="9.8" fill="#0aadec" />
<circle cx="687.3" cy="418.8" r="9.8" fill="#0aadec" />
<circle cx="673.4" cy="418.8" r="5.5" fill="#fafafa" />
<circle cx="687.3" cy="418.8" r="5.5" fill="#fafafa" />
<rect x="725.4" y="413.0" width="32.2" height="15.7" rx="7.8" fill="#0aadec" />
<circle cx="733.4" cy="421.0" r="3.7" fill="#fafafa" />
<circle cx="749.6" cy="421.0" r="3.7" fill="#fafafa" />
<circle cx="104.2" cy="457.0" r="14.3" fill="#0aadec" />
<circle cx="104.2" cy="457.0" r="9.3" fill="#c9bab6" />
<circle cx="104.2" cy="457.0" r="7.6000000000000005" fill="#f7f5f5" stroke="#74605c" stroke-width="0.8"/>
<path d="M104.2,450.7 L104.2,452.0 M107.4,451.5 L106.7,452.7 M109.7,453.9 L108.5,454.5 M110.5,457.0 L109.2,457.0 M109.7,460.1 L108.5,459.5 M107.4,462.5 L106.7,461.3 M104.2,463.3 L104.2,462.0 M101.0,462.5 L101.7,461.3 M98.7,460.1 L99.9,459.5 M97.9,457.0 L99.2,457.0 M98.7,453.9 L99.9,454.5 M101.0,451.5 L101.7,452.7 " stroke="#8a8a8a" stroke-width="0.6" fill="none"/>
<line x1="105.3" y1="458.9" x2="101.7" y2="452.6" stroke="#222" stroke-width="1.3"/>
<circle cx="104.2" cy="452.3" r="0.8" fill="#555" />
<circle cx="196.0" cy="457.0" r="16.9" fill="#0aadec" />
<circle cx="196.0" cy="457.0" r="11.7" fill="#c9bab6" />
<circle cx="196.0" cy="457.0" r="10.0" fill="#f7f5f5" stroke="#74605c" stroke-width="0.8"/>
<path d="M196.0,448.3 L196.0,449.6 M200.3,449.5 L199.7,450.6 M203.5,452.6 L202.4,453.3 M204.7,457.0 L203.4,457.0 M203.5,461.4 L202.4,460.7 M200.3,464.5 L199.7,463.4 M196.0,465.7 L196.0,464.4 M191.7,464.5 L192.3,463.4 M188.5,461.4 L189.6,460.7 M187.3,457.0 L188.6,457.0 M188.5,452.6 L189.6,453.3 M191.7,449.5 L192.3,450.6 " stroke="#8a8a8a" stroke-width="0.6" fill="none"/>
<line x1="194.1" y1="458.1" x2="202.5" y2="453.2" stroke="#222" stroke-width="1.3"/>
<circle cx="196.0" cy="449.9" r="0.8" fill="#555" />
<circle cx="290.5" cy="457.0" r="16.9" fill="#0aadec" />
<circle cx="290.5" cy="457.0" r="11.8" fill="#c9bab6" />
<circle cx="290.5" cy="457.0" r="10.100000000000001" fill="#f7f5f5" stroke="#74605c" stroke-width="0.8"/>
<path d="M290.5,448.2 L290.5,449.5 M294.9,449.4 L294.2,450.5 M298.1,452.6 L297.0,453.2 M299.3,457.0 L298.0,457.0 M298.1,461.4 L297.0,460.8 M294.9,464.6 L294.2,463.5 M290.5,465.8 L290.5,464.5 M286.1,464.6 L286.8,463.5 M282.9,461.4 L284.0,460.8 M281.7,457.0 L283.0,457.0 M282.9,452.6 L284.0,453.2 M286.1,449.4 L286.8,450.5 " stroke="#8a8a8a" stroke-width="0.6" fill="none"/>
<line x1="288.7" y1="455.7" x2="296.7" y2="461.4" stroke="#222" stroke-width="1.3"/>
<circle cx="290.5" cy="449.8" r="0.8" fill="#555" />
<circle cx="384.0" cy="457.0" r="16.8" fill="#0aadec" />
<circle cx="384.0" cy="457.0" r="11.8" fill="#c9bab6" />
<circle cx="384.0" cy="457.0" r="10.100000000000001" fill="#f7f5f5" stroke="#74605c" stroke-width="0.8"/>
<path d="M384.0,448.2 L384.0,449.5 M388.4,449.4 L387.8,450.5 M391.6,452.6 L390.5,453.2 M392.8,457.0 L391.5,457.0 M391.6,461.4 L390.5,460.8 M388.4,464.6 L387.8,463.5 M384.0,465.8 L384.0,464.5 M379.6,464.6 L380.2,463.5 M376.4,461.4 L377.5,460.8 M375.2,457.0 L376.5,457.0 M376.4,452.6 L377.5,453.2 M379.6,449.4 L380.2,450.5 " stroke="#8a8a8a" stroke-width="0.6" fill="none"/>
<line x1="382.9" y1="458.9" x2="387.8" y2="450.4" stroke="#d03040" stroke-width="1.3"/>
<circle cx="384.0" cy="449.8" r="0.8" fill="#555" />
<circle cx="478.0" cy="457.0" r="16.8" fill="#0aadec" />
<circle cx="478.0" cy="457.0" r="11.6" fill="#c9bab6" />
<circle cx="478.0" cy="457.0" r="9.9" fill="#f7f5f5" stroke="#74605c" stroke-width="0.8"/>
<path d="M478.0,448.4 L478.0,449.7 M482.3,449.6 L481.6,450.7 M485.4,452.7 L484.3,453.4 M486.6,457.0 L485.3,457.0 M485.4,461.3 L484.3,460.6 M482.3,464.4 L481.6,463.3 M478.0,465.6 L478.0,464.3 M473.7,464.4 L474.4,463.3 M470.6,461.3 L471.7,460.6 M469.4,457.0 L470.7,457.0 M470.6,452.7 L471.7,453.4 M473.7,449.6 L474.4,450.7 " stroke="#8a8a8a" stroke-width="0.6" fill="none"/>
<line x1="476.9" y1="458.9" x2="481.7" y2="450.6" stroke="#222" stroke-width="1.3"/>
<circle cx="478.0" cy="450.0" r="0.8" fill="#555" />
<circle cx="572.0" cy="457.0" r="16.8" fill="#0aadec" />
<circle cx="572.0" cy="457.0" r="11.6" fill="#c9bab6" />
<circle cx="572.0" cy="457.0" r="9.9" fill="#f7f5f5" stroke="#74605c" stroke-width="0.8"/>
<path d="M572.0,448.4 L572.0,449.7 M576.3,449.6 L575.6,450.7 M579.4,452.7 L578.3,453.4 M580.6,457.0 L579.3,457.0 M579.4,461.3 L578.3,460.6 M576.3,464.4 L575.6,463.3 M572.0,465.6 L572.0,464.3 M567.7,464.4 L568.4,463.3 M564.6,461.3 L565.7,460.6 M563.4,457.0 L564.7,457.0 M564.6,452.7 L565.7,453.4 M567.7,449.6 L568.4,450.7 " stroke="#8a8a8a" stroke-width="0.6" fill="none"/>
<line x1="572.0" y1="459.2" x2="572.0" y2="449.6" stroke="#222" stroke-width="1.3"/>
<circle cx="572.0" cy="450.0" r="0.8" fill="#555" />
<rect x="649.4" y="451.0" width="25.8" height="13.0" rx="4.3" fill="#0aadec" />
<rect x="654.3" y="455.2" width="16.2" height="4.7" rx="1.4" fill="#3a3a3a" />
<path d="M655.8,457.5 H669.0" stroke="#b0b0b0" stroke-width="1.6" stroke-dasharray="1.6 0.9" fill="none"/>
<rect x="690.7" y="451.0" width="25.8" height="13.0" rx="4.3" fill="#0aadec" />
<rect x="695.6" y="455.2" width="16.2" height="4.7" rx="1.4" fill="#3a3a3a" />
<path d="M697.1,457.5 H710.3" stroke="#b0b0b0" stroke-width="1.6" stroke-dasharray="1.6 0.9" fill="none"/>
<rect x="731.8" y="451.0" width="25.8" height="13.0" rx="4.3" fill="#0aadec" />
<rect x="736.7" y="455.2" width="16.2" height="4.7" rx="1.4" fill="#3a3a3a" />
<path d="M738.2,457.5 H751.4" stroke="#b0b0b0" stroke-width="1.6" stroke-dasharray="1.6 0.9" fill="none"/>
<circle cx="109.8" cy="495.8" r="11.7" fill="#0aadec" />
<circle cx="109.8" cy="495.8" r="7.2" fill="#0b7242" />
<circle cx="156.5" cy="495.8" r="11.7" fill="#0aadec" />
<circle cx="156.5" cy="495.8" r="7.2" fill="#0b7242" />
<circle cx="203.8" cy="495.8" r="11.7" fill="#0aadec" />
<circle cx="203.8" cy="495.8" r="7.2" fill="#0b7242" />
<circle cx="251.0" cy="495.8" r="11.7" fill="#0aadec" />
<circle cx="251.0" cy="495.8" r="7.2" fill="#0b7242" />
<circle cx="297.5" cy="495.8" r="11.7" fill="#0aadec" />
<circle cx="297.5" cy="495.8" r="7.2" fill="#0b7242" />
<circle cx="396.0" cy="495.6" r="9.7" fill="#0aadec" />
<circle cx="396.0" cy="495.6" r="5.4" fill="#0b7242" />
<circle cx="439.0" cy="495.6" r="9.7" fill="#0aadec" />
<circle cx="439.0" cy="495.6" r="5.4" fill="#0b7242" />
<circle cx="481.3" cy="495.6" r="9.7" fill="#0aadec" />
<circle cx="481.3" cy="495.6" r="5.4" fill="#0b7242" />
<circle cx="524.0" cy="495.6" r="9.7" fill="#0aadec" />
<circle cx="524.0" cy="495.6" r="5.4" fill="#0b7242" />
<circle cx="567.0" cy="495.6" r="9.7" fill="#0aadec" />
<circle cx="567.0" cy="495.6" r="5.4" fill="#0b7242" />
<circle cx="609.0" cy="495.6" r="9.7" fill="#0aadec" />
<circle cx="609.0" cy="495.6" r="5.4" fill="#0b7242" />
<rect x="695.6" y="489.0" width="19.5" height="14.0" rx="4.3" fill="#0aadec" />
<rect x="700.0" y="493.8" width="10.7" height="4.6" rx="1.4" fill="#3a3a3a" />
<path d="M701.5,496.1 H709.2" stroke="#b0b0b0" stroke-width="1.6" stroke-dasharray="1.6 0.9" fill="none"/>
<rect x="737.8" y="489.0" width="19.5" height="14.0" rx="4.3" fill="#0aadec" />
<rect x="742.2" y="493.8" width="10.7" height="4.6" rx="1.4" fill="#3a3a3a" />
<path d="M743.7,496.1 H751.4" stroke="#b0b0b0" stroke-width="1.6" stroke-dasharray="1.6 0.9" fill="none"/>
<rect x="312.0" y="524.0" width="22.3" height="11.6" rx="4.3" fill="#0aadec" />
<rect x="316.3" y="527.8" width="13.7" height="4.0" rx="1.4" fill="#3a3a3a" />
<path d="M317.8,529.8 H328.5" stroke="#b0b0b0" stroke-width="1.6" stroke-dasharray="1.6 0.9" fill="none"/>
<rect x="350.4" y="524.0" width="22.3" height="11.6" rx="4.3" fill="#0aadec" />
<rect x="354.7" y="527.8" width="13.7" height="4.0" rx="1.4" fill="#3a3a3a" />
<path d="M356.2,529.8 H366.9" stroke="#b0b0b0" stroke-width="1.6" stroke-dasharray="1.6 0.9" fill="none"/>
<rect x="388.8" y="524.0" width="22.3" height="11.6" rx="4.3" fill="#0aadec" />
<rect x="393.1" y="527.8" width="13.7" height="4.0" rx="1.4" fill="#3a3a3a" />
<path d="M394.6,529.8 H405.3" stroke="#b0b0b0" stroke-width="1.6" stroke-dasharray="1.6 0.9" fill="none"/>
<rect x="427.2" y="524.0" width="22.3" height="11.6" rx="4.3" fill="#0aadec" />
<rect x="431.5" y="527.8" width="13.7" height="4.0" rx="1.4" fill="#3a3a3a" />
<path d="M433.0,529.8 H443.7" stroke="#b0b0b0" stroke-width="1.6" stroke-dasharray="1.6 0.9" fill="none"/>
<rect x="465.6" y="524.0" width="22.3" height="11.6" rx="4.3" fill="#0aadec" />
<rect x="469.9" y="527.8" width="13.7" height="4.0" rx="1.4" fill="#3a3a3a" />
<path d="M471.4,529.8 H482.1" stroke="#b0b0b0" stroke-width="1.6" stroke-dasharray="1.6 0.9" fill="none"/>
<rect x="504.0" y="524.0" width="22.3" height="11.6" rx="4.3" fill="#0aadec" />
<rect x="508.3" y="527.8" width="13.7" height="4.0" rx="1.4" fill="#3a3a3a" />
<path d="M509.8,529.8 H520.5" stroke="#b0b0b0" stroke-width="1.6" stroke-dasharray="1.6 0.9" fill="none"/>
<rect x="542.4" y="524.0" width="22.3" height="11.6" rx="4.3" fill="#0aadec" />
<rect x="546.7" y="527.8" width="13.7" height="4.0" rx="1.4" fill="#3a3a3a" />
<path d="M548.2,529.8 H558.9" stroke="#b0b0b0" stroke-width="1.6" stroke-dasharray="1.6 0.9" fill="none"/>
<rect x="580.8" y="524.0" width="22.3" height="11.6" rx="4.3" fill="#0aadec" />
<rect x="585.1" y="527.8" width="13.7" height="4.0" rx="1.4" fill="#3a3a3a" />
<path d="M586.6,529.8 H597.3" stroke="#b0b0b0" stroke-width="1.6" stroke-dasharray="1.6 0.9" fill="none"/>
<rect x="619.2" y="524.0" width="22.3" height="11.6" rx="4.3" fill="#0aadec" />
<rect x="623.5" y="527.8" width="13.7" height="4.0" rx="1.4" fill="#3a3a3a" />
<path d="M625.0,529.8 H635.7" stroke="#b0b0b0" stroke-width="1.6" stroke-dasharray="1.6 0.9" fill="none"/>
<rect x="657.6" y="524.0" width="22.3" height="11.6" rx="4.3" fill="#0aadec" />
<rect x="661.9" y="527.8" width="13.7" height="4.0" rx="1.4" fill="#3a3a3a" />
<path d="M663.4,529.8 H674.1" stroke="#b0b0b0" stroke-width="1.6" stroke-dasharray="1.6 0.9" fill="none"/>
<rect x="696.0" y="524.0" width="22.3" height="11.6" rx="4.3" fill="#0aadec" />
<rect x="700.3" y="527.8" width="13.7" height="4.0" rx="1.4" fill="#3a3a3a" />
<path d="M701.8,529.8 H712.5" stroke="#b0b0b0" stroke-width="1.6" stroke-dasharray="1.6 0.9" fill="none"/>
<rect x="734.4" y="524.0" width="22.3" height="11.6" rx="4.3" fill="#0aadec" />
<rect x="738.7" y="527.8" width="13.7" height="4.0" rx="1.4" fill="#3a3a3a" />
<path d="M740.2,529.8 H750.9" stroke="#b0b0b0" stroke-width="1.6" stroke-dasharray="1.6 0.9" fill="none"/>
<!-- 15_badge14.py -->
<g id="b14"><path d="M90.5,304.3 H144.0 Q149.0,304.3 149.0,309.3 V355.0 C149.0,373.4 133.1,381.6 117.2,384.6 C101.4,381.6 85.5,373.4 85.5,355.0 V309.3 Q85.5,304.3 90.5,304.3 Z" fill="#0aadec"/>
<path d="M92.7,308.8 H141.8 Q144.3,308.8 144.3,311.3 V354.5 C144.3,370.2 130.8,377.3 117.2,379.8 C103.7,377.3 90.2,370.2 90.2,354.5 V311.3 Q90.2,308.8 92.7,308.8 Z" fill="#e9e9ea"/>
<rect x="92.5" y="310.8" width="49.3" height="8.7" fill="#232a5c"/>
<path d="M0,0 V5.4 M0,2.6 H3.2 V5.4" transform="translate(95.6 312.5)" fill="none" stroke="#f4f4f4" stroke-width="1.15"/>
<path d="M0,0 V4 Q0,5.4 1.6,5.4 Q3.2,5.4 3.2,4 V0 M3.2,5.4 H4.2" transform="translate(101.1 312.5)" fill="none" stroke="#f4f4f4" stroke-width="1.15"/>
<path d="M0,0.3 H3 V2.6 H0.4 M3,2.6 V5.4 H0" transform="translate(106.6 312.5)" fill="none" stroke="#f4f4f4" stroke-width="1.15"/>
<path d="M0,0 V4 Q0,5.4 1.6,5.4 Q3.2,5.4 3.2,4 V0 M3.2,5.4 H4.2" transform="translate(112.1 312.5)" fill="none" stroke="#f4f4f4" stroke-width="1.15"/>
<path d="M0,0 V4 Q0,5.4 1.6,5.4 Q3.2,5.4 3.2,4 V0" transform="translate(117.6 312.5)" fill="none" stroke="#f4f4f4" stroke-width="1.15"/>
<path d="M0,1.2 Q0,0 1.6,0 Q3.2,0 3.2,1.2 M1.6,0 V5.4 M0,5.4 H3.2" transform="translate(123.1 312.5)" fill="none" stroke="#f4f4f4" stroke-width="1.15"/>
<path d="M0,0 V4 Q0,5.4 1.6,5.4 Q3.2,5.4 3.2,4 V0 M3.2,5.4 H4.2" transform="translate(128.6 312.5)" fill="none" stroke="#f4f4f4" stroke-width="1.15"/>
<path d="M0,0 V5.4 H3.4" transform="translate(134.1 312.5)" fill="none" stroke="#f4f4f4" stroke-width="1.15"/>
<path d="M101.5,334.8 A16.5,16.5 0 0 1 133.3,334.8" fill="none" stroke="#e3222a" stroke-width="4.4"/>
<path d="M105.7,335.9 A12.2,12.2 0 0 1 129.1,335.9" fill="none" stroke="#232a5c" stroke-width="4.4"/>
<path d="M109.8,337.1 A7.9,7.9 0 0 1 125.0,337.1" fill="none" stroke="#f07a22" stroke-width="4.4"/>
<path d="M112,341 C108.5,336.5 101.5,331.6 92.8,330.4 L94.6,333.8 L92.6,336.6 L95.6,339 L93.6,342.6 L97,344.4 L95.8,348.2 L99.6,349.4 L99.2,353.2 L103,353.2 L104.2,356.8 L108,354.6 L112,352.5 Z" fill="#232a5c"/>
<path d="M112,341 C108.5,336.5 101.5,331.6 92.8,330.4 L94.6,333.8 L92.6,336.6 L95.6,339 L93.6,342.6 L97,344.4 L95.8,348.2 L99.6,349.4 L99.2,353.2 L103,353.2 L104.2,356.8 L108,354.6 L112,352.5 Z" fill="#232a5c" transform="translate(234.4 0) scale(-1 1)"/>
<path d="M109,339.5 L96.5,334 M109.5,343 L97,340 M110,346.5 L99.5,346 M110.5,349.5 L102.5,351" stroke="#6a74a8" stroke-width="0.7" fill="none"/>
<path d="M109,339.5 L96.5,334 M109.5,343 L97,340 M110,346.5 L99.5,346 M110.5,349.5 L102.5,351" stroke="#6a74a8" stroke-width="0.7" fill="none" transform="translate(234.4 0) scale(-1 1)"/>
<circle cx="117.1" cy="341.6" r="5.3" fill="#e6d08a" stroke="#c9a85a" stroke-width="1.1"/>
<path d="M115,338.5 Q117.5,337 119,339.5 L120.3,341.5 L118.8,341.8 L119.5,346 Q119.8,350 117,351 Q114.2,350 114.6,346 Z" fill="#3a416e"/>
<path d="M96.6,359.4 L100,358.3 H135 L138.8,359.4 L135,360.5 H100 Z" fill="#ddd6c2"/>
<circle cx="116.6" cy="358.6" r="9.2" fill="#d8c89a"/>
<circle cx="114.8" cy="356.4" r="5.2" fill="#ece2c2"/>
<path d="M108,358.6 H125.5 M116.6,349.6 V367.6 M109.5,353.5 Q116.6,357 123.8,353.5 M109.5,363.8 Q116.6,360 123.8,363.8" stroke="#b8a468" stroke-width="0.6" fill="none"/>
<path d="M99.6,365.2 Q117.2,379 134.8,365.2" fill="none" stroke="#232a5c" stroke-width="3.6" stroke-dasharray="2.3 0.8 1.6 0.8 2.6 2.2 2.3 0.8 2.8 0.8 1.8 0.8"/>
<path d="M99.6,365.2 Q117.2,379 134.8,365.2" fill="none" stroke="#e9e9ea" stroke-width="1.0" stroke-dasharray="0.9 2.1"/>
</g>
<use href="#b14" x="82.6" y="0"/>
<!-- 16_badge15.py -->
<g id="b15"><path d="M296.5,305.6 Q300,303 304,306 L322,303 Q333,301.8 340.5,306 Q347.5,310.5 351,318.5 L359.3,333 Q361,337.4 357,338.6 L354.6,339.2 Q358.5,352 353,366 Q347.5,376.5 339,381.4 Q333.5,386.4 324,386.2 Q313.5,386.4 308.5,381.4 Q298.5,374.5 293.6,362 Q289.4,348 293,334 L295.6,321 L294,310.5 Q293.8,307.4 296.5,305.6 Z" fill="#0aadec"/>
<ellipse cx="323.8" cy="350.4" rx="26.4" ry="30.4" fill="#f6c832" stroke="#d99a1a" stroke-width="0.9"/>
<path d="M311.5,333 H341.5 Q342.5,350 337,360 Q331.5,367.5 326,368 Q319.5,367.5 315,360 Q310.5,350 311.5,333 Z" fill="#fbfbfb"/>
<ellipse cx="313.1" cy="373.5" rx="4.3" ry="1.7" transform="rotate(-124 313.1 373.5)" fill="#f9d648" stroke="#d99a1a" stroke-width="0.55"/>
<ellipse cx="315.1" cy="369.2" rx="3.7" ry="1.4" transform="rotate(-180 315.1 369.2)" fill="#f9d648" stroke="#d99a1a" stroke-width="0.55"/>
<ellipse cx="307.6" cy="368.7" rx="4.3" ry="1.7" transform="rotate(-106 307.6 368.7)" fill="#f9d648" stroke="#d99a1a" stroke-width="0.55"/>
<ellipse cx="310.6" cy="365.3" rx="3.7" ry="1.4" transform="rotate(-162 310.6 365.3)" fill="#f9d648" stroke="#d99a1a" stroke-width="0.55"/>
<ellipse cx="303.6" cy="362.3" rx="4.3" ry="1.7" transform="rotate(-89 303.6 362.3)" fill="#f9d648" stroke="#d99a1a" stroke-width="0.55"/>
<ellipse cx="307.3" cy="360.1" rx="3.7" ry="1.4" transform="rotate(-145 307.3 360.1)" fill="#f9d648" stroke="#d99a1a" stroke-width="0.55"/>
<ellipse cx="301.4" cy="354.7" rx="4.3" ry="1.7" transform="rotate(-72 301.4 354.7)" fill="#f9d648" stroke="#d99a1a" stroke-width="0.55"/>
<ellipse cx="305.6" cy="353.9" rx="3.7" ry="1.4" transform="rotate(-128 305.6 353.9)" fill="#f9d648" stroke="#d99a1a" stroke-width="0.55"/>
<ellipse cx="301.3" cy="346.8" rx="4.3" ry="1.7" transform="rotate(-54 301.3 346.8)" fill="#f9d648" stroke="#d99a1a" stroke-width="0.55"/>
<ellipse cx="305.5" cy="347.4" rx="3.7" ry="1.4" transform="rotate(-110 305.5 347.4)" fill="#f9d648" stroke="#d99a1a" stroke-width="0.55"/>
<ellipse cx="303.3" cy="339.1" rx="4.3" ry="1.7" transform="rotate(-36 303.3 339.1)" fill="#f9d648" stroke="#d99a1a" stroke-width="0.55"/>
<ellipse cx="307.1" cy="341.2" rx="3.7" ry="1.4" transform="rotate(-92 307.1 341.2)" fill="#f9d648" stroke="#d99a1a" stroke-width="0.55"/>
<ellipse cx="307.2" cy="332.6" rx="4.3" ry="1.7" transform="rotate(-19 307.2 332.6)" fill="#f9d648" stroke="#d99a1a" stroke-width="0.55"/>
<ellipse cx="310.3" cy="335.9" rx="3.7" ry="1.4" transform="rotate(-75 310.3 335.9)" fill="#f9d648" stroke="#d99a1a" stroke-width="0.55"/>
<ellipse cx="312.6" cy="327.6" rx="4.3" ry="1.7" transform="rotate(-2 312.6 327.6)" fill="#f9d648" stroke="#d99a1a" stroke-width="0.55"/>
<ellipse cx="314.7" cy="331.9" rx="3.7" ry="1.4" transform="rotate(-58 314.7 331.9)" fill="#f9d648" stroke="#d99a1a" stroke-width="0.55"/>
<ellipse cx="334.5" cy="373.5" rx="4.3" ry="1.7" transform="rotate(-56 334.5 373.5)" fill="#f9d648" stroke="#d99a1a" stroke-width="0.55"/>
<ellipse cx="332.5" cy="369.2" rx="3.7" ry="1.4" transform="rotate(-0 332.5 369.2)" fill="#f9d648" stroke="#d99a1a" stroke-width="0.55"/>
<ellipse cx="340.0" cy="368.7" rx="4.3" ry="1.7" transform="rotate(-74 340.0 368.7)" fill="#f9d648" stroke="#d99a1a" stroke-width="0.55"/>
<ellipse cx="337.0" cy="365.3" rx="3.7" ry="1.4" transform="rotate(-18 337.0 365.3)" fill="#f9d648" stroke="#d99a1a" stroke-width="0.55"/>
<ellipse cx="344.0" cy="362.3" rx="4.3" ry="1.7" transform="rotate(-91 344.0 362.3)" fill="#f9d648" stroke="#d99a1a" stroke-width="0.55"/>
<ellipse cx="340.3" cy="360.1" rx="3.7" ry="1.4" transform="rotate(-35 340.3 360.1)" fill="#f9d648" stroke="#d99a1a" stroke-width="0.55"/>
<ellipse cx="346.2" cy="354.7" rx="4.3" ry="1.7" transform="rotate(-108 346.2 354.7)" fill="#f9d648" stroke="#d99a1a" stroke-width="0.55"/>
<ellipse cx="342.0" cy="353.9" rx="3.7" ry="1.4" transform="rotate(-52 342.0 353.9)" fill="#f9d648" stroke="#d99a1a" stroke-width="0.55"/>
<ellipse cx="346.3" cy="346.8" rx="4.3" ry="1.7" transform="rotate(-126 346.3 346.8)" fill="#f9d648" stroke="#d99a1a" stroke-width="0.55"/>
<ellipse cx="342.1" cy="347.4" rx="3.7" ry="1.4" transform="rotate(-70 342.1 347.4)" fill="#f9d648" stroke="#d99a1a" stroke-width="0.55"/>
<ellipse cx="344.3" cy="339.1" rx="4.3" ry="1.7" transform="rotate(-144 344.3 339.1)" fill="#f9d648" stroke="#d99a1a" stroke-width="0.55"/>
<ellipse cx="340.5" cy="341.2" rx="3.7" ry="1.4" transform="rotate(-88 340.5 341.2)" fill="#f9d648" stroke="#d99a1a" stroke-width="0.55"/>
<ellipse cx="340.4" cy="332.6" rx="4.3" ry="1.7" transform="rotate(-161 340.4 332.6)" fill="#f9d648" stroke="#d99a1a" stroke-width="0.55"/>
<ellipse cx="337.3" cy="335.9" rx="3.7" ry="1.4" transform="rotate(-105 337.3 335.9)" fill="#f9d648" stroke="#d99a1a" stroke-width="0.55"/>
<ellipse cx="335.0" cy="327.6" rx="4.3" ry="1.7" transform="rotate(-178 335.0 327.6)" fill="#f9d648" stroke="#d99a1a" stroke-width="0.55"/>
<ellipse cx="332.9" cy="331.9" rx="3.7" ry="1.4" transform="rotate(-122 332.9 331.9)" fill="#f9d648" stroke="#d99a1a" stroke-width="0.55"/>
<polygon points="324.8,338.6 327.7,347.0 336.6,347.2 329.5,352.5 332.1,361.0 324.8,355.9 317.5,361.0 320.1,352.5 313.0,347.2 321.9,347.0" fill="#c4452a"/>
<path d="M324.8,351 L324.8,338.6 M324.8,351 L336.6,347.2 M324.8,351 L332.1,361 M324.8,351 L317.5,361 M324.8,351 L313,347.2" stroke="#e07a50" stroke-width="0.6" fill="none"/>
<path d="M309,382 L318,375 M339.5,382 L330,375" stroke="#f6c832" stroke-width="2.6" stroke-linecap="round" fill="none"/>
<ellipse cx="323.8" cy="371.8" rx="12" ry="6.4" fill="#f6c832" stroke="#d99a1a" stroke-width="0.8"/>
<path d="M317.5,371.5 H330" stroke="#d99a1a" stroke-width="1" stroke-dasharray="1.6 0.8" fill="none"/>
<path d="M302.3,313.8 Q311,307.6 322.6,307.2 Q331,305.8 337,309 Q343.5,311.5 346,318 Q349.5,327.5 356,335.4 Q349.5,336 344.5,333.4 Q338,330.2 331,332.2 Q322.5,335.6 312.6,336.4 Q308.5,324.5 302.3,313.8 Z" fill="#e0242c"/>
<path d="M322,331.5 Q330,327 338,329.5 Q343,331 346.5,329.5" stroke="#a81820" stroke-width="1.1" fill="none"/>
<path d="M330,326.5 l5,-1.2 l4,1.6" stroke="#8a1018" stroke-width="0.9" fill="none"/>
<path d="M299.6,309.8 L317.6,360" stroke="#f6c832" stroke-width="2.2" stroke-linecap="round" fill="none"/>
<path d="M300.4,310.4 L318,359.6" stroke="#d99a1a" stroke-width="0.5" fill="none"/>
<circle cx="299.4" cy="309.2" r="1.8" fill="#f6c832"/>
</g>
<use href="#b15" transform="translate(779.5 0) scale(-1 1)"/>
<path id="fl15" d="M307.2,322.6 Q320,313.5 332,320.5 Q339,324.5 345.5,331.5" fill="none"/>
<text font-family="Liberation Sans" font-weight="bold" font-size="7.3" fill="#f8d848" stroke="#f8d848" stroke-width="0.3" letter-spacing="0.35"><textPath href="#fl15">ГВАРДИЯ</textPath></text>
<path id="fl16" d="M436.8,329.2 Q451,320.6 473,324.6" fill="none"/>
<text font-family="Liberation Sans" font-weight="bold" font-size="7.3" fill="#f8d848" stroke="#f8d848" stroke-width="0.3" letter-spacing="0.35"><textPath href="#fl16">ГВАРДИЯ</textPath></text>

</g>
</svg>
</body></html>
